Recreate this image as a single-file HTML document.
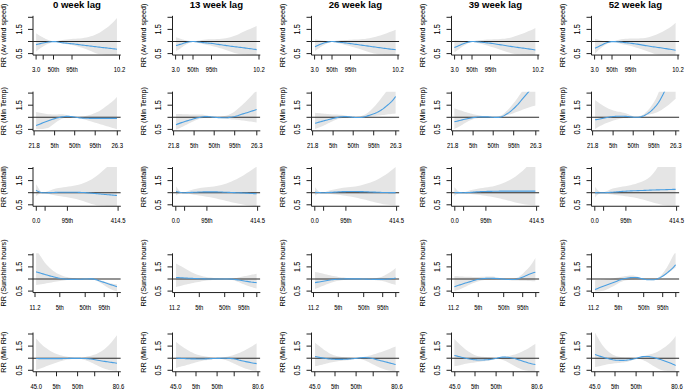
<!DOCTYPE html><html><head><meta charset="utf-8"><style>html,body{margin:0;padding:0;background:#fff;width:685px;height:390px;overflow:hidden}svg{display:block}text{font-family:"Liberation Sans",sans-serif;stroke:#000;stroke-width:0.05px}</style></head><body>
<svg width="685" height="390" viewBox="0 0 685 390">
<defs>
<clipPath id="p00"><rect x="33.00" y="15.85" width="87.80" height="39.20"/></clipPath>
<clipPath id="p01"><rect x="172.50" y="15.85" width="87.80" height="39.20"/></clipPath>
<clipPath id="p02"><rect x="311.50" y="15.85" width="87.80" height="39.20"/></clipPath>
<clipPath id="p03"><rect x="451.50" y="15.85" width="87.80" height="39.20"/></clipPath>
<clipPath id="p04"><rect x="591.50" y="15.85" width="87.80" height="39.20"/></clipPath>
<clipPath id="p10"><rect x="33.00" y="91.65" width="87.80" height="39.20"/></clipPath>
<clipPath id="p11"><rect x="172.50" y="91.65" width="87.80" height="39.20"/></clipPath>
<clipPath id="p12"><rect x="311.50" y="91.65" width="87.80" height="39.20"/></clipPath>
<clipPath id="p13"><rect x="451.50" y="91.65" width="87.80" height="39.20"/></clipPath>
<clipPath id="p14"><rect x="591.50" y="91.65" width="87.80" height="39.20"/></clipPath>
<clipPath id="p20"><rect x="33.00" y="167.05" width="87.80" height="39.20"/></clipPath>
<clipPath id="p21"><rect x="172.50" y="167.05" width="87.80" height="39.20"/></clipPath>
<clipPath id="p22"><rect x="311.50" y="167.05" width="87.80" height="39.20"/></clipPath>
<clipPath id="p23"><rect x="451.50" y="167.05" width="87.80" height="39.20"/></clipPath>
<clipPath id="p24"><rect x="591.50" y="167.05" width="87.80" height="39.20"/></clipPath>
<clipPath id="p30"><rect x="33.00" y="253.35" width="87.80" height="39.20"/></clipPath>
<clipPath id="p31"><rect x="172.50" y="253.35" width="87.80" height="39.20"/></clipPath>
<clipPath id="p32"><rect x="311.50" y="253.35" width="87.80" height="39.20"/></clipPath>
<clipPath id="p33"><rect x="451.50" y="253.35" width="87.80" height="39.20"/></clipPath>
<clipPath id="p34"><rect x="591.50" y="253.35" width="87.80" height="39.20"/></clipPath>
<clipPath id="p40"><rect x="33.00" y="332.55" width="87.80" height="39.20"/></clipPath>
<clipPath id="p41"><rect x="172.50" y="332.55" width="87.80" height="39.20"/></clipPath>
<clipPath id="p42"><rect x="311.50" y="332.55" width="87.80" height="39.20"/></clipPath>
<clipPath id="p43"><rect x="451.50" y="332.55" width="87.80" height="39.20"/></clipPath>
<clipPath id="p44"><rect x="591.50" y="332.55" width="87.80" height="39.20"/></clipPath>
</defs>
<g clip-path="url(#p00)">
<polygon points="36.10,33.21 36.71,33.65 37.32,34.08 37.93,34.49 38.54,34.89 39.15,35.28 39.76,35.65 40.38,36.01 40.99,36.36 41.60,36.70 42.21,37.03 42.82,37.36 43.43,37.68 44.04,38.01 44.65,38.34 45.26,38.66 45.87,38.96 46.48,39.25 47.09,39.51 47.70,39.74 48.31,39.97 48.92,40.18 49.53,40.38 50.14,40.57 50.75,40.75 51.36,40.92 51.97,41.08 52.58,41.23 53.19,41.37 53.80,41.50 55.98,41.16 58.16,40.81 60.33,40.45 62.51,40.10 64.69,39.77 66.87,39.47 69.04,39.20 71.22,38.99 73.40,38.84 75.58,38.73 77.76,38.60 79.93,38.40 82.11,38.15 84.29,37.84 86.47,37.45 88.64,36.94 90.82,36.34 93.00,35.65 95.18,34.82 97.36,33.86 99.53,32.73 101.71,31.35 103.89,29.87 106.07,28.31 108.25,26.63 110.42,24.74 112.60,22.65 114.78,20.42 116.96,18.03 116.96,54.96 114.78,54.95 112.60,54.91 110.42,54.84 108.25,54.75 106.07,54.64 103.89,54.51 101.71,54.36 99.53,54.15 97.36,53.74 95.18,53.07 93.00,52.05 90.82,51.08 88.64,50.17 86.47,49.29 84.29,48.50 82.11,47.81 79.93,47.18 77.76,46.57 75.58,45.95 73.40,45.37 71.22,44.88 69.04,44.50 66.87,44.18 64.69,43.84 62.51,43.43 60.33,43.00 58.16,42.54 55.98,42.04 53.80,41.50 53.19,41.71 52.58,41.93 51.97,42.16 51.36,42.39 50.75,42.63 50.14,42.88 49.53,43.13 48.92,43.39 48.31,43.66 47.70,43.94 47.09,44.23 46.48,44.54 45.87,44.87 45.26,45.21 44.65,45.56 44.04,45.93 43.43,46.30 42.82,46.67 42.21,47.05 41.60,47.44 40.99,47.84 40.38,48.25 39.76,48.68 39.15,49.12 38.54,49.58 37.93,50.06 37.32,50.56 36.71,51.07 36.10,51.61" fill="#e5e5e5"/>
<line x1="33.00" y1="41.50" x2="120.80" y2="41.50" stroke="#2a2a2a" stroke-width="1.1"/>
<polyline points="36.10,44.62 37.47,44.25 38.84,43.91 40.21,43.59 41.59,43.29 42.96,43.02 44.33,42.76 45.70,42.51 47.07,42.27 48.44,42.07 49.81,41.89 51.18,41.71 52.55,41.58 53.92,41.53 55.29,41.61 56.66,41.80 58.03,42.05 59.40,42.30 60.77,42.50 62.14,42.68 63.51,42.85 64.88,43.01 66.25,43.17 67.62,43.32 68.99,43.45 70.36,43.58 71.73,43.71 73.10,43.85 74.47,44.01 75.84,44.19 77.22,44.39 78.59,44.60 79.96,44.79 81.33,44.97 82.70,45.14 84.07,45.30 85.44,45.46 86.81,45.62 88.18,45.79 89.55,45.95 90.92,46.12 92.29,46.28 93.66,46.45 95.03,46.61 96.40,46.78 97.77,46.94 99.14,47.11 100.51,47.27 101.88,47.43 103.25,47.59 104.62,47.75 105.99,47.91 107.36,48.07 108.73,48.23 110.10,48.39 111.47,48.55 112.85,48.71 114.22,48.87 115.59,49.03 116.96,49.19" fill="none" stroke="#4a9fe2" stroke-width="1.1" stroke-linejoin="round"/>
</g>
<polyline points="33.00,15.85 33.00,55.05 120.80,55.05" fill="none" stroke="#222" stroke-width="1"/>
<line x1="28.00" y1="53.60" x2="33.00" y2="53.60" stroke="#222" stroke-width="1"/>
<line x1="28.00" y1="41.50" x2="33.00" y2="41.50" stroke="#222" stroke-width="1"/>
<line x1="28.00" y1="29.40" x2="33.00" y2="29.40" stroke="#222" stroke-width="1"/>
<line x1="28.00" y1="17.30" x2="33.00" y2="17.30" stroke="#222" stroke-width="1"/>
<text x="0" y="0" transform="translate(21.80,53.60) rotate(-90) scale(0.98,1.1)" text-anchor="middle" font-size="7.6" fill="#000">0.5</text>
<text x="0" y="0" transform="translate(21.80,29.40) rotate(-90) scale(0.98,1.1)" text-anchor="middle" font-size="7.6" fill="#000">1.5</text>
<text x="0" y="0" transform="translate(6.40,35.45) rotate(-90)" text-anchor="middle" font-size="7.2" fill="#000">RR (Av wind speed)</text>
<line x1="36.10" y1="55.05" x2="36.10" y2="59.55" stroke="#222" stroke-width="1"/>
<text x="0" y="0" transform="translate(36.10,72.20) scale(0.95,1.05)" text-anchor="middle" font-size="6.2" fill="#000">3.0</text>
<line x1="43.20" y1="55.05" x2="43.20" y2="59.55" stroke="#222" stroke-width="1"/>
<line x1="53.50" y1="55.05" x2="53.50" y2="59.55" stroke="#222" stroke-width="1"/>
<text x="0" y="0" transform="translate(53.50,72.20) scale(0.95,1.05)" text-anchor="middle" font-size="6.2" fill="#000">50th</text>
<line x1="72.00" y1="55.05" x2="72.00" y2="59.55" stroke="#222" stroke-width="1"/>
<text x="0" y="0" transform="translate(72.00,72.20) scale(0.95,1.05)" text-anchor="middle" font-size="6.2" fill="#000">95th</text>
<line x1="119.50" y1="55.05" x2="119.50" y2="59.55" stroke="#222" stroke-width="1"/>
<text x="0" y="0" transform="translate(119.50,72.20) scale(0.95,1.05)" text-anchor="middle" font-size="6.2" fill="#000">10.2</text>
<text x="76.90" y="7.50" text-anchor="middle" font-size="9.6" font-weight="bold" fill="#000" style="stroke:none">0 week lag</text>
<g clip-path="url(#p01)">
<polygon points="176.04,37.24 176.63,37.45 177.21,37.65 177.80,37.86 178.38,38.06 178.97,38.26 179.55,38.46 180.14,38.65 180.72,38.84 181.31,39.03 181.89,39.22 182.48,39.42 183.06,39.61 183.64,39.79 184.23,39.97 184.81,40.14 185.40,40.29 185.98,40.43 186.57,40.55 187.15,40.66 187.74,40.76 188.32,40.86 188.91,40.95 189.49,41.03 190.08,41.12 190.66,41.20 191.25,41.28 191.83,41.36 192.42,41.43 193.00,41.50 195.19,41.13 197.39,40.77 199.58,40.39 201.78,40.02 203.97,39.75 206.16,39.52 208.36,39.35 210.55,39.24 212.75,39.20 214.94,39.16 217.13,39.11 219.33,39.00 221.52,38.81 223.72,38.58 225.91,38.25 228.10,37.80 230.30,37.27 232.49,36.62 234.69,35.82 236.88,34.93 239.08,33.91 241.27,32.76 243.46,31.64 245.66,30.71 247.85,29.86 250.05,29.00 252.24,28.06 254.43,27.09 256.63,26.09 256.63,54.96 254.43,54.95 252.24,54.90 250.05,54.83 247.85,54.73 245.66,54.60 243.46,54.46 241.27,54.30 239.08,54.01 236.88,53.56 234.69,52.99 232.49,52.29 230.30,51.56 228.10,50.77 225.91,49.95 223.72,49.19 221.52,48.53 219.33,47.93 217.13,47.34 214.94,46.75 212.75,46.16 210.55,45.62 208.36,45.16 206.16,44.74 203.97,44.30 201.78,43.82 199.58,43.30 197.39,42.75 195.19,42.15 193.00,41.50 192.42,41.66 191.83,41.85 191.25,42.05 190.66,42.27 190.08,42.50 189.49,42.76 188.91,43.05 188.32,43.35 187.74,43.67 187.15,43.98 186.57,44.31 185.98,44.65 185.40,44.99 184.81,45.35 184.23,45.72 183.64,46.09 183.06,46.49 182.48,46.92 181.89,47.37 181.31,47.82 180.72,48.28 180.14,48.70 179.55,49.10 178.97,49.45 178.38,49.78 177.80,50.10 177.21,50.40 176.63,50.68 176.04,50.93" fill="#e5e5e5"/>
<line x1="172.50" y1="41.50" x2="260.30" y2="41.50" stroke="#2a2a2a" stroke-width="1.1"/>
<polyline points="176.04,45.56 177.41,45.20 178.78,44.81 180.14,44.40 181.51,43.97 182.87,43.49 184.24,43.03 185.60,42.65 186.97,42.29 188.34,42.01 189.70,41.81 191.07,41.64 192.43,41.54 193.80,41.55 195.17,41.66 196.53,41.82 197.90,42.01 199.26,42.17 200.63,42.31 201.99,42.45 203.36,42.59 204.73,42.72 206.09,42.86 207.46,42.99 208.82,43.12 210.19,43.25 211.56,43.38 212.92,43.54 214.29,43.73 215.65,43.95 217.02,44.18 218.38,44.41 219.75,44.63 221.12,44.83 222.48,45.02 223.85,45.21 225.21,45.40 226.58,45.59 227.95,45.78 229.31,45.98 230.68,46.17 232.04,46.36 233.41,46.54 234.77,46.71 236.14,46.87 237.51,47.03 238.87,47.19 240.24,47.36 241.60,47.53 242.97,47.72 244.34,47.90 245.70,48.08 247.07,48.27 248.43,48.46 249.80,48.64 251.16,48.83 252.53,49.02 253.90,49.21 255.26,49.40 256.63,49.59" fill="none" stroke="#4a9fe2" stroke-width="1.1" stroke-linejoin="round"/>
</g>
<polyline points="172.50,15.85 172.50,55.05 260.30,55.05" fill="none" stroke="#222" stroke-width="1"/>
<line x1="167.50" y1="53.60" x2="172.50" y2="53.60" stroke="#222" stroke-width="1"/>
<line x1="167.50" y1="41.50" x2="172.50" y2="41.50" stroke="#222" stroke-width="1"/>
<line x1="167.50" y1="29.40" x2="172.50" y2="29.40" stroke="#222" stroke-width="1"/>
<line x1="167.50" y1="17.30" x2="172.50" y2="17.30" stroke="#222" stroke-width="1"/>
<text x="0" y="0" transform="translate(161.30,53.60) rotate(-90) scale(0.98,1.1)" text-anchor="middle" font-size="7.6" fill="#000">0.5</text>
<text x="0" y="0" transform="translate(161.30,29.40) rotate(-90) scale(0.98,1.1)" text-anchor="middle" font-size="7.6" fill="#000">1.5</text>
<text x="0" y="0" transform="translate(145.90,35.45) rotate(-90)" text-anchor="middle" font-size="7.2" fill="#000">RR (Av wind speed)</text>
<line x1="175.60" y1="55.05" x2="175.60" y2="59.55" stroke="#222" stroke-width="1"/>
<text x="0" y="0" transform="translate(175.60,72.20) scale(0.95,1.05)" text-anchor="middle" font-size="6.2" fill="#000">3.0</text>
<line x1="182.70" y1="55.05" x2="182.70" y2="59.55" stroke="#222" stroke-width="1"/>
<line x1="193.00" y1="55.05" x2="193.00" y2="59.55" stroke="#222" stroke-width="1"/>
<text x="0" y="0" transform="translate(193.00,72.20) scale(0.95,1.05)" text-anchor="middle" font-size="6.2" fill="#000">50th</text>
<line x1="211.50" y1="55.05" x2="211.50" y2="59.55" stroke="#222" stroke-width="1"/>
<text x="0" y="0" transform="translate(211.50,72.20) scale(0.95,1.05)" text-anchor="middle" font-size="6.2" fill="#000">95th</text>
<line x1="259.00" y1="55.05" x2="259.00" y2="59.55" stroke="#222" stroke-width="1"/>
<text x="0" y="0" transform="translate(259.00,72.20) scale(0.95,1.05)" text-anchor="middle" font-size="6.2" fill="#000">10.2</text>
<text x="216.40" y="7.50" text-anchor="middle" font-size="9.6" font-weight="bold" fill="#000" style="stroke:none">13 week lag</text>
<g clip-path="url(#p02)">
<polygon points="315.04,39.25 315.63,39.39 316.21,39.52 316.80,39.64 317.38,39.76 317.97,39.88 318.55,39.99 319.14,40.09 319.72,40.19 320.31,40.27 320.89,40.36 321.48,40.44 322.06,40.51 322.64,40.58 323.23,40.65 323.81,40.72 324.40,40.78 324.98,40.85 325.57,40.91 326.15,40.97 326.74,41.03 327.32,41.09 327.91,41.15 328.49,41.20 329.08,41.26 329.66,41.31 330.25,41.36 330.83,41.41 331.42,41.46 332.00,41.50 334.19,41.11 336.39,40.80 338.58,40.55 340.78,40.34 342.97,40.16 345.16,40.01 347.36,39.89 349.55,39.77 351.75,39.69 353.94,39.61 356.13,39.51 358.33,39.40 360.52,39.28 362.72,39.12 364.91,38.88 367.10,38.57 369.30,38.20 371.49,37.76 373.69,37.22 375.88,36.64 378.08,36.03 380.27,35.38 382.46,34.68 384.66,33.94 386.85,33.15 389.05,32.33 391.24,31.52 393.43,30.69 395.63,29.85 395.63,54.96 393.43,54.95 391.24,54.92 389.05,54.87 386.85,54.80 384.66,54.71 382.46,54.61 380.27,54.47 378.08,54.19 375.88,53.84 373.69,53.40 371.49,52.85 369.30,52.24 367.10,51.54 364.91,50.76 362.72,49.99 360.52,49.27 358.33,48.56 356.13,47.88 353.94,47.24 351.75,46.63 349.55,46.04 347.36,45.45 345.16,44.88 342.97,44.32 340.78,43.79 338.58,43.28 336.39,42.74 334.19,42.15 332.00,41.50 331.42,41.66 330.83,41.85 330.25,42.05 329.66,42.27 329.08,42.50 328.49,42.76 327.91,43.05 327.32,43.36 326.74,43.67 326.15,43.97 325.57,44.27 324.98,44.57 324.40,44.88 323.81,45.19 323.23,45.51 322.64,45.84 322.06,46.19 321.48,46.56 320.89,46.95 320.31,47.34 319.72,47.75 319.14,48.15 318.55,48.55 317.97,48.94 317.38,49.34 316.80,49.74 316.21,50.13 315.63,50.53 315.04,50.93" fill="#e5e5e5"/>
<line x1="311.50" y1="41.50" x2="399.30" y2="41.50" stroke="#2a2a2a" stroke-width="1.1"/>
<polyline points="315.04,46.64 316.41,46.02 317.78,45.42 319.14,44.85 320.51,44.28 321.87,43.75 323.24,43.27 324.60,42.84 325.97,42.46 327.34,42.14 328.70,41.87 330.07,41.68 331.43,41.55 332.80,41.55 334.17,41.66 335.53,41.82 336.90,42.01 338.26,42.17 339.63,42.31 340.99,42.44 342.36,42.57 343.73,42.71 345.09,42.86 346.46,43.02 347.82,43.21 349.19,43.41 350.56,43.61 351.92,43.81 353.29,44.00 354.65,44.19 356.02,44.38 357.38,44.57 358.75,44.76 360.12,44.96 361.48,45.15 362.85,45.34 364.21,45.53 365.58,45.72 366.95,45.91 368.31,46.10 369.68,46.29 371.04,46.49 372.41,46.68 373.77,46.87 375.14,47.06 376.51,47.25 377.87,47.44 379.24,47.63 380.60,47.82 381.97,48.00 383.34,48.18 384.70,48.36 386.07,48.54 387.43,48.72 388.80,48.90 390.16,49.08 391.53,49.25 392.90,49.38 394.26,49.50 395.63,49.59" fill="none" stroke="#4a9fe2" stroke-width="1.1" stroke-linejoin="round"/>
</g>
<polyline points="311.50,15.85 311.50,55.05 399.30,55.05" fill="none" stroke="#222" stroke-width="1"/>
<line x1="306.50" y1="53.60" x2="311.50" y2="53.60" stroke="#222" stroke-width="1"/>
<line x1="306.50" y1="41.50" x2="311.50" y2="41.50" stroke="#222" stroke-width="1"/>
<line x1="306.50" y1="29.40" x2="311.50" y2="29.40" stroke="#222" stroke-width="1"/>
<line x1="306.50" y1="17.30" x2="311.50" y2="17.30" stroke="#222" stroke-width="1"/>
<text x="0" y="0" transform="translate(300.30,53.60) rotate(-90) scale(0.98,1.1)" text-anchor="middle" font-size="7.6" fill="#000">0.5</text>
<text x="0" y="0" transform="translate(300.30,29.40) rotate(-90) scale(0.98,1.1)" text-anchor="middle" font-size="7.6" fill="#000">1.5</text>
<text x="0" y="0" transform="translate(284.90,35.45) rotate(-90)" text-anchor="middle" font-size="7.2" fill="#000">RR (Av wind speed)</text>
<line x1="314.60" y1="55.05" x2="314.60" y2="59.55" stroke="#222" stroke-width="1"/>
<text x="0" y="0" transform="translate(314.60,72.20) scale(0.95,1.05)" text-anchor="middle" font-size="6.2" fill="#000">3.0</text>
<line x1="321.70" y1="55.05" x2="321.70" y2="59.55" stroke="#222" stroke-width="1"/>
<line x1="332.00" y1="55.05" x2="332.00" y2="59.55" stroke="#222" stroke-width="1"/>
<text x="0" y="0" transform="translate(332.00,72.20) scale(0.95,1.05)" text-anchor="middle" font-size="6.2" fill="#000">50th</text>
<line x1="350.50" y1="55.05" x2="350.50" y2="59.55" stroke="#222" stroke-width="1"/>
<text x="0" y="0" transform="translate(350.50,72.20) scale(0.95,1.05)" text-anchor="middle" font-size="6.2" fill="#000">95th</text>
<line x1="398.00" y1="55.05" x2="398.00" y2="59.55" stroke="#222" stroke-width="1"/>
<text x="0" y="0" transform="translate(398.00,72.20) scale(0.95,1.05)" text-anchor="middle" font-size="6.2" fill="#000">10.2</text>
<text x="355.40" y="7.50" text-anchor="middle" font-size="9.6" font-weight="bold" fill="#000" style="stroke:none">26 week lag</text>
<g clip-path="url(#p03)">
<polygon points="454.37,40.19 454.98,40.25 455.59,40.31 456.20,40.37 456.80,40.43 457.41,40.49 458.02,40.55 458.63,40.62 459.24,40.68 459.84,40.74 460.45,40.80 461.06,40.87 461.67,40.93 462.27,40.98 462.88,41.04 463.49,41.09 464.10,41.14 464.71,41.20 465.31,41.25 465.92,41.29 466.53,41.33 467.14,41.37 467.75,41.40 468.35,41.42 468.96,41.44 469.57,41.46 470.18,41.47 470.78,41.49 471.39,41.50 472.00,41.50 474.18,40.92 476.37,40.52 478.55,40.26 480.74,40.06 482.92,39.90 485.11,39.75 487.29,39.62 489.48,39.51 491.66,39.42 493.85,39.34 496.03,39.25 498.22,39.14 500.40,39.02 502.59,38.86 504.77,38.64 506.96,38.34 509.14,37.96 511.33,37.46 513.51,36.78 515.70,36.04 517.88,35.31 520.07,34.52 522.25,33.71 524.44,32.88 526.62,32.02 528.80,31.12 530.99,30.17 533.17,29.16 535.36,28.10 535.36,54.96 533.17,54.95 530.99,54.92 528.80,54.88 526.62,54.82 524.44,54.74 522.25,54.65 520.07,54.56 517.88,54.40 515.70,54.14 513.51,53.79 511.33,53.22 509.14,52.60 506.96,51.93 504.77,51.21 502.59,50.49 500.40,49.74 498.22,48.98 496.03,48.26 493.85,47.58 491.66,46.93 489.48,46.29 487.29,45.62 485.11,44.95 482.92,44.31 480.74,43.76 478.55,43.26 476.37,42.74 474.18,42.15 472.00,41.50 471.39,41.69 470.78,41.90 470.18,42.15 469.57,42.41 468.96,42.70 468.35,43.03 467.75,43.41 467.14,43.80 466.53,44.18 465.92,44.54 465.31,44.89 464.71,45.25 464.10,45.60 463.49,45.97 462.88,46.34 462.27,46.74 461.67,47.16 461.06,47.61 460.45,48.07 459.84,48.53 459.24,48.99 458.63,49.43 458.02,49.86 457.41,50.28 456.80,50.69 456.20,51.09 455.59,51.49 454.98,51.89 454.37,52.28" fill="#e5e5e5"/>
<line x1="451.50" y1="41.50" x2="539.30" y2="41.50" stroke="#2a2a2a" stroke-width="1.1"/>
<polyline points="454.37,47.58 455.74,46.98 457.12,46.39 458.49,45.79 459.86,45.19 461.24,44.58 462.61,44.01 463.98,43.47 465.35,42.96 466.73,42.53 468.10,42.16 469.47,41.87 470.84,41.62 472.22,41.53 473.59,41.57 474.96,41.65 476.33,41.76 477.71,41.87 479.08,41.98 480.45,42.10 481.83,42.24 483.20,42.38 484.57,42.53 485.94,42.68 487.32,42.84 488.69,42.99 490.06,43.16 491.43,43.34 492.81,43.53 494.18,43.74 495.55,43.97 496.92,44.20 498.30,44.42 499.67,44.64 501.04,44.86 502.42,45.08 503.79,45.30 505.16,45.52 506.53,45.74 507.91,45.97 509.28,46.19 510.65,46.41 512.02,46.62 513.40,46.82 514.77,47.02 516.14,47.21 517.51,47.40 518.89,47.58 520.26,47.77 521.63,47.95 523.01,48.12 524.38,48.30 525.75,48.49 527.12,48.68 528.50,48.89 529.87,49.10 531.24,49.31 532.61,49.53 533.99,49.76 535.36,49.99" fill="none" stroke="#4a9fe2" stroke-width="1.1" stroke-linejoin="round"/>
</g>
<polyline points="451.50,15.85 451.50,55.05 539.30,55.05" fill="none" stroke="#222" stroke-width="1"/>
<line x1="446.50" y1="53.60" x2="451.50" y2="53.60" stroke="#222" stroke-width="1"/>
<line x1="446.50" y1="41.50" x2="451.50" y2="41.50" stroke="#222" stroke-width="1"/>
<line x1="446.50" y1="29.40" x2="451.50" y2="29.40" stroke="#222" stroke-width="1"/>
<line x1="446.50" y1="17.30" x2="451.50" y2="17.30" stroke="#222" stroke-width="1"/>
<text x="0" y="0" transform="translate(440.30,53.60) rotate(-90) scale(0.98,1.1)" text-anchor="middle" font-size="7.6" fill="#000">0.5</text>
<text x="0" y="0" transform="translate(440.30,29.40) rotate(-90) scale(0.98,1.1)" text-anchor="middle" font-size="7.6" fill="#000">1.5</text>
<text x="0" y="0" transform="translate(424.90,35.45) rotate(-90)" text-anchor="middle" font-size="7.2" fill="#000">RR (Av wind speed)</text>
<line x1="454.60" y1="55.05" x2="454.60" y2="59.55" stroke="#222" stroke-width="1"/>
<text x="0" y="0" transform="translate(454.60,72.20) scale(0.95,1.05)" text-anchor="middle" font-size="6.2" fill="#000">3.0</text>
<line x1="461.70" y1="55.05" x2="461.70" y2="59.55" stroke="#222" stroke-width="1"/>
<line x1="472.00" y1="55.05" x2="472.00" y2="59.55" stroke="#222" stroke-width="1"/>
<text x="0" y="0" transform="translate(472.00,72.20) scale(0.95,1.05)" text-anchor="middle" font-size="6.2" fill="#000">50th</text>
<line x1="490.50" y1="55.05" x2="490.50" y2="59.55" stroke="#222" stroke-width="1"/>
<text x="0" y="0" transform="translate(490.50,72.20) scale(0.95,1.05)" text-anchor="middle" font-size="6.2" fill="#000">95th</text>
<line x1="538.00" y1="55.05" x2="538.00" y2="59.55" stroke="#222" stroke-width="1"/>
<text x="0" y="0" transform="translate(538.00,72.20) scale(0.95,1.05)" text-anchor="middle" font-size="6.2" fill="#000">10.2</text>
<text x="495.40" y="7.50" text-anchor="middle" font-size="9.6" font-weight="bold" fill="#000" style="stroke:none">39 week lag</text>
<g clip-path="url(#p04)">
<polygon points="595.04,38.85 595.65,39.02 596.25,39.19 596.85,39.36 597.45,39.53 598.05,39.69 598.66,39.86 599.26,40.04 599.86,40.22 600.46,40.40 601.06,40.57 601.67,40.72 602.27,40.84 602.87,40.93 603.47,41.01 604.07,41.09 604.67,41.16 605.28,41.22 605.88,41.28 606.48,41.33 607.08,41.37 607.68,41.39 608.29,41.42 608.89,41.43 609.49,41.45 610.09,41.47 610.69,41.48 611.30,41.49 611.90,41.50 612.50,41.50 614.68,40.91 616.85,40.31 619.03,39.70 621.21,39.31 623.38,39.03 625.56,38.82 627.74,38.64 629.91,38.50 632.09,38.44 634.27,38.44 636.45,38.44 638.62,38.44 640.80,38.37 642.98,38.19 645.15,37.94 647.33,37.56 649.51,36.98 651.68,36.30 653.86,35.56 656.04,34.70 658.21,33.75 660.39,32.77 662.57,31.70 664.74,30.56 666.92,29.34 669.10,28.01 671.27,26.50 673.45,24.74 675.63,22.73 675.63,54.96 673.45,54.96 671.27,54.94 669.10,54.90 666.92,54.86 664.74,54.80 662.57,54.72 660.39,54.63 658.21,54.51 656.04,54.16 653.86,53.63 651.68,52.78 649.51,51.90 647.33,51.13 645.15,50.39 642.98,49.67 640.80,49.00 638.62,48.35 636.45,47.71 634.27,47.03 632.09,46.34 629.91,45.72 627.74,45.22 625.56,44.81 623.38,44.39 621.21,43.90 619.03,43.34 616.85,42.75 614.68,42.14 612.50,41.50 611.90,41.69 611.30,41.89 610.69,42.12 610.09,42.36 609.49,42.62 608.89,42.90 608.29,43.20 607.68,43.52 607.08,43.86 606.48,44.21 605.88,44.57 605.28,44.94 604.67,45.33 604.07,45.73 603.47,46.15 602.87,46.58 602.27,47.03 601.67,47.49 601.06,47.97 600.46,48.46 599.86,48.97 599.26,49.49 598.66,50.03 598.05,50.58 597.45,51.15 596.85,51.75 596.25,52.35 595.65,52.98 595.04,53.62" fill="#e5e5e5"/>
<line x1="591.50" y1="41.50" x2="679.30" y2="41.50" stroke="#2a2a2a" stroke-width="1.1"/>
<polyline points="595.04,48.25 596.41,47.60 597.78,46.94 599.14,46.27 600.51,45.57 601.87,44.89 603.24,44.24 604.60,43.61 605.97,43.05 607.34,42.59 608.70,42.19 610.07,41.89 611.43,41.62 612.80,41.53 614.17,41.58 615.53,41.67 616.90,41.79 618.26,41.91 619.63,42.03 620.99,42.16 622.36,42.29 623.73,42.44 625.09,42.59 626.46,42.74 627.82,42.90 629.19,43.06 630.56,43.23 631.92,43.41 633.29,43.58 634.65,43.77 636.02,43.95 637.38,44.15 638.75,44.36 640.12,44.59 641.48,44.84 642.85,45.10 644.21,45.35 645.58,45.59 646.95,45.82 648.31,46.04 649.68,46.26 651.04,46.47 652.41,46.68 653.77,46.87 655.14,47.06 656.51,47.25 657.87,47.44 659.24,47.63 660.60,47.83 661.97,48.03 663.34,48.24 664.70,48.44 666.07,48.65 667.43,48.87 668.80,49.09 670.16,49.32 671.53,49.55 672.90,49.78 674.26,50.02 675.63,50.26" fill="none" stroke="#4a9fe2" stroke-width="1.1" stroke-linejoin="round"/>
</g>
<polyline points="591.50,15.85 591.50,55.05 679.30,55.05" fill="none" stroke="#222" stroke-width="1"/>
<line x1="586.50" y1="53.60" x2="591.50" y2="53.60" stroke="#222" stroke-width="1"/>
<line x1="586.50" y1="41.50" x2="591.50" y2="41.50" stroke="#222" stroke-width="1"/>
<line x1="586.50" y1="29.40" x2="591.50" y2="29.40" stroke="#222" stroke-width="1"/>
<line x1="586.50" y1="17.30" x2="591.50" y2="17.30" stroke="#222" stroke-width="1"/>
<text x="0" y="0" transform="translate(580.30,53.60) rotate(-90) scale(0.98,1.1)" text-anchor="middle" font-size="7.6" fill="#000">0.5</text>
<text x="0" y="0" transform="translate(580.30,29.40) rotate(-90) scale(0.98,1.1)" text-anchor="middle" font-size="7.6" fill="#000">1.5</text>
<text x="0" y="0" transform="translate(564.90,35.45) rotate(-90)" text-anchor="middle" font-size="7.2" fill="#000">RR (Av wind speed)</text>
<line x1="594.60" y1="55.05" x2="594.60" y2="59.55" stroke="#222" stroke-width="1"/>
<text x="0" y="0" transform="translate(594.60,72.20) scale(0.95,1.05)" text-anchor="middle" font-size="6.2" fill="#000">3.0</text>
<line x1="601.70" y1="55.05" x2="601.70" y2="59.55" stroke="#222" stroke-width="1"/>
<line x1="612.00" y1="55.05" x2="612.00" y2="59.55" stroke="#222" stroke-width="1"/>
<text x="0" y="0" transform="translate(612.00,72.20) scale(0.95,1.05)" text-anchor="middle" font-size="6.2" fill="#000">50th</text>
<line x1="630.50" y1="55.05" x2="630.50" y2="59.55" stroke="#222" stroke-width="1"/>
<text x="0" y="0" transform="translate(630.50,72.20) scale(0.95,1.05)" text-anchor="middle" font-size="6.2" fill="#000">95th</text>
<line x1="678.00" y1="55.05" x2="678.00" y2="59.55" stroke="#222" stroke-width="1"/>
<text x="0" y="0" transform="translate(678.00,72.20) scale(0.95,1.05)" text-anchor="middle" font-size="6.2" fill="#000">10.2</text>
<text x="635.40" y="7.50" text-anchor="middle" font-size="9.6" font-weight="bold" fill="#000" style="stroke:none">52 week lag</text>
<g clip-path="url(#p10)">
<polygon points="36.10,111.89 37.43,112.20 38.77,112.50 40.10,112.78 41.43,113.04 42.76,113.29 44.09,113.54 45.42,113.77 46.75,113.98 48.08,114.14 49.41,114.26 50.74,114.37 52.07,114.47 53.41,114.54 54.74,114.58 56.07,114.56 57.40,114.47 58.73,114.36 60.06,114.25 61.39,114.18 62.72,114.22 64.05,114.43 65.38,114.72 66.71,115.06 68.05,115.53 69.38,116.02 70.71,116.40 72.04,116.73 73.37,117.04 74.70,117.30 76.16,117.18 77.61,117.04 79.07,116.89 80.53,116.74 81.99,116.57 83.44,116.38 84.90,116.16 86.36,115.86 87.81,115.50 89.27,115.09 90.73,114.65 92.19,114.15 93.64,113.59 95.10,112.99 96.56,112.35 98.01,111.67 99.47,110.92 100.93,110.09 102.39,109.10 103.84,107.98 105.30,106.82 106.76,105.71 108.21,104.66 109.67,103.59 111.13,102.46 112.58,101.23 114.04,99.89 115.50,98.48 116.96,96.98 116.96,129.22 115.50,128.78 114.04,128.34 112.58,127.91 111.13,127.47 109.67,127.03 108.21,126.59 106.76,126.16 105.30,125.72 103.84,125.28 102.39,124.85 100.93,124.41 99.47,123.97 98.01,123.53 96.56,123.10 95.10,122.66 93.64,122.22 92.19,121.79 90.73,121.35 89.27,120.90 87.81,120.45 86.36,120.01 84.90,119.60 83.44,119.20 81.99,118.83 80.53,118.47 79.07,118.14 77.61,117.84 76.16,117.56 74.70,117.30 73.37,117.04 72.04,116.89 70.71,116.87 69.38,116.93 68.05,117.05 66.71,117.21 65.38,117.51 64.05,117.92 62.72,118.40 61.39,119.01 60.06,119.73 58.73,120.50 57.40,121.35 56.07,122.27 54.74,123.23 53.41,124.28 52.07,125.34 50.74,126.26 49.41,127.18 48.08,127.94 46.75,128.35 45.42,128.60 44.09,128.80 42.76,128.92 41.43,128.95 40.10,128.95 38.77,128.95 37.43,128.95 36.10,128.95" fill="#e5e5e5"/>
<line x1="33.00" y1="117.30" x2="120.80" y2="117.30" stroke="#2a2a2a" stroke-width="1.1"/>
<polyline points="36.10,125.59 37.47,125.03 38.84,124.48 40.21,123.92 41.59,123.37 42.96,122.82 44.33,122.26 45.70,121.71 47.07,121.18 48.44,120.67 49.81,120.17 51.18,119.70 52.55,119.26 53.92,118.85 55.29,118.46 56.66,118.09 58.03,117.76 59.40,117.45 60.77,117.15 62.14,116.89 63.51,116.69 64.88,116.50 66.25,116.36 67.62,116.33 68.99,116.39 70.36,116.50 71.73,116.64 73.10,116.85 74.47,117.08 75.84,117.30 77.22,117.52 78.59,117.71 79.96,117.86 81.33,117.99 82.70,118.10 84.07,118.18 85.44,118.23 86.81,118.27 88.18,118.30 89.55,118.33 90.92,118.34 92.29,118.34 93.66,118.34 95.03,118.34 96.40,118.34 97.77,118.34 99.14,118.34 100.51,118.34 101.88,118.34 103.25,118.34 104.62,118.34 105.99,118.34 107.36,118.34 108.73,118.34 110.10,118.34 111.47,118.34 112.85,118.34 114.22,118.34 115.59,118.34 116.96,118.34" fill="none" stroke="#4a9fe2" stroke-width="1.1" stroke-linejoin="round"/>
</g>
<polyline points="33.00,91.65 33.00,130.85 120.80,130.85" fill="none" stroke="#222" stroke-width="1"/>
<line x1="28.00" y1="129.40" x2="33.00" y2="129.40" stroke="#222" stroke-width="1"/>
<line x1="28.00" y1="117.30" x2="33.00" y2="117.30" stroke="#222" stroke-width="1"/>
<line x1="28.00" y1="105.20" x2="33.00" y2="105.20" stroke="#222" stroke-width="1"/>
<line x1="28.00" y1="93.10" x2="33.00" y2="93.10" stroke="#222" stroke-width="1"/>
<text x="0" y="0" transform="translate(21.80,129.40) rotate(-90) scale(0.98,1.1)" text-anchor="middle" font-size="7.6" fill="#000">0.5</text>
<text x="0" y="0" transform="translate(21.80,105.20) rotate(-90) scale(0.98,1.1)" text-anchor="middle" font-size="7.6" fill="#000">1.5</text>
<text x="0" y="0" transform="translate(6.40,111.25) rotate(-90)" text-anchor="middle" font-size="7.2" fill="#000">RR (Min Temp)</text>
<line x1="34.10" y1="130.85" x2="34.10" y2="135.35" stroke="#222" stroke-width="1"/>
<text x="0" y="0" transform="translate(34.10,148.00) scale(0.95,1.05)" text-anchor="middle" font-size="6.2" fill="#000">21.8</text>
<line x1="54.60" y1="130.85" x2="54.60" y2="135.35" stroke="#222" stroke-width="1"/>
<text x="0" y="0" transform="translate(54.60,148.00) scale(0.95,1.05)" text-anchor="middle" font-size="6.2" fill="#000">5th</text>
<line x1="74.70" y1="130.85" x2="74.70" y2="135.35" stroke="#222" stroke-width="1"/>
<text x="0" y="0" transform="translate(74.70,148.00) scale(0.95,1.05)" text-anchor="middle" font-size="6.2" fill="#000">50th</text>
<line x1="95.20" y1="130.85" x2="95.20" y2="135.35" stroke="#222" stroke-width="1"/>
<text x="0" y="0" transform="translate(95.20,148.00) scale(0.95,1.05)" text-anchor="middle" font-size="6.2" fill="#000">95th</text>
<line x1="117.30" y1="130.85" x2="117.30" y2="135.35" stroke="#222" stroke-width="1"/>
<text x="0" y="0" transform="translate(117.30,148.00) scale(0.95,1.05)" text-anchor="middle" font-size="6.2" fill="#000">26.3</text>
<g clip-path="url(#p11)">
<polygon points="176.04,113.91 177.36,113.95 178.68,114.00 179.99,114.05 181.31,114.10 182.62,114.14 183.94,114.20 185.25,114.25 186.57,114.31 187.89,114.37 189.20,114.42 190.52,114.45 191.83,114.49 193.15,114.52 194.46,114.55 195.78,114.57 197.10,114.58 198.41,114.58 199.73,114.58 201.04,114.58 202.36,114.58 203.67,114.70 204.99,114.96 206.31,115.26 207.62,115.62 208.94,116.06 210.25,116.45 211.57,116.77 212.88,117.05 214.20,117.30 215.66,117.15 217.13,117.00 218.59,116.83 220.05,116.68 221.52,116.51 222.98,116.31 224.44,116.05 225.90,115.67 227.37,115.21 228.83,114.68 230.29,114.08 231.76,113.35 233.22,112.51 234.68,111.48 236.15,110.31 237.61,109.10 239.07,107.84 240.53,106.54 242.00,105.19 243.46,103.82 244.92,102.42 246.39,100.99 247.85,99.52 249.31,98.03 250.78,96.52 252.24,94.92 253.70,93.33 255.16,91.91 256.63,90.67 256.63,122.50 255.16,122.27 253.70,122.04 252.24,121.81 250.78,121.59 249.31,121.38 247.85,121.16 246.39,120.96 244.92,120.76 243.46,120.57 242.00,120.38 240.53,120.19 239.07,120.02 237.61,119.86 236.15,119.73 234.68,119.61 233.22,119.51 231.76,119.39 230.29,119.26 228.83,119.10 227.37,118.92 225.90,118.74 224.44,118.55 222.98,118.40 221.52,118.26 220.05,118.12 218.59,117.96 217.13,117.77 215.66,117.55 214.20,117.30 212.88,117.31 211.57,117.35 210.25,117.40 208.94,117.46 207.62,117.53 206.31,117.63 204.99,117.78 203.67,117.97 202.36,118.18 201.04,118.46 199.73,118.83 198.41,119.26 197.10,119.73 195.78,120.24 194.46,120.81 193.15,121.44 191.83,122.07 190.52,122.70 189.20,123.36 187.89,124.03 186.57,124.69 185.25,125.36 183.94,126.03 182.62,126.70 181.31,127.34 179.99,127.95 178.68,128.53 177.36,129.09 176.04,129.62" fill="#e5e5e5"/>
<line x1="172.50" y1="117.30" x2="260.30" y2="117.30" stroke="#2a2a2a" stroke-width="1.1"/>
<polyline points="176.04,124.65 177.41,124.12 178.78,123.61 180.14,123.12 181.51,122.64 182.87,122.19 184.24,121.75 185.60,121.32 186.97,120.90 188.34,120.48 189.70,120.08 191.07,119.67 192.43,119.26 193.80,118.82 195.17,118.40 196.53,118.02 197.90,117.70 199.26,117.42 200.63,117.17 201.99,116.94 203.36,116.71 204.73,116.59 206.09,116.61 207.46,116.66 208.82,116.72 210.19,116.82 211.56,116.96 212.92,117.12 214.29,117.26 215.65,117.38 217.02,117.50 218.38,117.60 219.75,117.67 221.12,117.72 222.48,117.76 223.85,117.79 225.21,117.80 226.58,117.74 227.95,117.60 229.31,117.42 230.68,117.23 232.04,117.01 233.41,116.74 234.77,116.44 236.14,116.10 237.51,115.70 238.87,115.23 240.24,114.75 241.60,114.31 242.97,113.90 244.34,113.50 245.70,113.09 247.07,112.67 248.43,112.24 249.80,111.79 251.16,111.34 252.53,110.88 253.90,110.42 255.26,109.95 256.63,109.47" fill="none" stroke="#4a9fe2" stroke-width="1.1" stroke-linejoin="round"/>
</g>
<polyline points="172.50,91.65 172.50,130.85 260.30,130.85" fill="none" stroke="#222" stroke-width="1"/>
<line x1="167.50" y1="129.40" x2="172.50" y2="129.40" stroke="#222" stroke-width="1"/>
<line x1="167.50" y1="117.30" x2="172.50" y2="117.30" stroke="#222" stroke-width="1"/>
<line x1="167.50" y1="105.20" x2="172.50" y2="105.20" stroke="#222" stroke-width="1"/>
<line x1="167.50" y1="93.10" x2="172.50" y2="93.10" stroke="#222" stroke-width="1"/>
<text x="0" y="0" transform="translate(161.30,129.40) rotate(-90) scale(0.98,1.1)" text-anchor="middle" font-size="7.6" fill="#000">0.5</text>
<text x="0" y="0" transform="translate(161.30,105.20) rotate(-90) scale(0.98,1.1)" text-anchor="middle" font-size="7.6" fill="#000">1.5</text>
<text x="0" y="0" transform="translate(145.90,111.25) rotate(-90)" text-anchor="middle" font-size="7.2" fill="#000">RR (Min Temp)</text>
<line x1="173.60" y1="130.85" x2="173.60" y2="135.35" stroke="#222" stroke-width="1"/>
<text x="0" y="0" transform="translate(173.60,148.00) scale(0.95,1.05)" text-anchor="middle" font-size="6.2" fill="#000">21.8</text>
<line x1="194.10" y1="130.85" x2="194.10" y2="135.35" stroke="#222" stroke-width="1"/>
<text x="0" y="0" transform="translate(194.10,148.00) scale(0.95,1.05)" text-anchor="middle" font-size="6.2" fill="#000">5th</text>
<line x1="214.20" y1="130.85" x2="214.20" y2="135.35" stroke="#222" stroke-width="1"/>
<text x="0" y="0" transform="translate(214.20,148.00) scale(0.95,1.05)" text-anchor="middle" font-size="6.2" fill="#000">50th</text>
<line x1="234.70" y1="130.85" x2="234.70" y2="135.35" stroke="#222" stroke-width="1"/>
<text x="0" y="0" transform="translate(234.70,148.00) scale(0.95,1.05)" text-anchor="middle" font-size="6.2" fill="#000">95th</text>
<line x1="256.80" y1="130.85" x2="256.80" y2="135.35" stroke="#222" stroke-width="1"/>
<text x="0" y="0" transform="translate(256.80,148.00) scale(0.95,1.05)" text-anchor="middle" font-size="6.2" fill="#000">26.3</text>
<g clip-path="url(#p12)">
<polygon points="315.04,112.83 316.36,112.95 317.68,113.06 318.99,113.18 320.31,113.30 321.62,113.43 322.94,113.55 324.25,113.69 325.57,113.83 326.89,113.97 328.20,114.10 329.52,114.20 330.83,114.30 332.15,114.39 333.46,114.47 334.78,114.53 336.10,114.59 337.41,114.62 338.73,114.64 340.04,114.67 341.36,114.72 342.67,114.90 343.99,115.20 345.31,115.53 346.62,115.87 347.94,116.25 349.25,116.58 350.57,116.86 351.88,117.10 353.20,117.30 354.66,117.20 356.13,117.03 357.59,116.83 359.05,116.55 360.52,116.19 361.98,115.76 363.44,115.25 364.90,114.57 366.37,113.74 367.83,112.74 369.29,111.50 370.76,110.17 372.22,108.79 373.68,107.31 375.15,105.75 376.61,104.10 378.07,102.36 379.53,100.53 381.00,98.58 382.46,96.59 383.92,94.64 385.39,92.71 386.85,90.79 388.31,88.83 389.78,87.11 391.24,85.60 392.70,84.22 394.16,82.98 395.63,81.94 395.63,113.50 394.16,113.66 392.70,113.82 391.24,113.98 389.78,114.15 388.31,114.33 386.85,114.51 385.39,114.70 383.92,114.88 382.46,115.07 381.00,115.25 379.53,115.43 378.07,115.61 376.61,115.80 375.15,115.98 373.68,116.16 372.22,116.35 370.76,116.53 369.29,116.71 367.83,116.90 366.37,117.10 364.90,117.30 363.44,117.47 361.98,117.59 360.52,117.69 359.05,117.76 357.59,117.80 356.13,117.75 354.66,117.56 353.20,117.30 351.88,117.31 350.57,117.35 349.25,117.40 347.94,117.46 346.62,117.53 345.31,117.63 343.99,117.78 342.67,117.97 341.36,118.18 340.04,118.46 338.73,118.83 337.41,119.26 336.10,119.73 334.78,120.24 333.46,120.81 332.15,121.44 330.83,122.07 329.52,122.71 328.20,123.37 326.89,124.05 325.57,124.70 324.25,125.33 322.94,125.95 321.62,126.55 320.31,127.11 318.99,127.62 317.68,128.10 316.36,128.54 315.04,128.95" fill="#e5e5e5"/>
<line x1="311.50" y1="117.30" x2="399.30" y2="117.30" stroke="#2a2a2a" stroke-width="1.1"/>
<polyline points="315.04,123.31 316.41,122.91 317.78,122.52 319.14,122.13 320.51,121.75 321.87,121.37 323.24,120.99 324.60,120.62 325.97,120.27 327.34,119.92 328.70,119.59 330.07,119.25 331.43,118.90 332.80,118.54 334.17,118.19 335.53,117.87 336.90,117.59 338.26,117.31 339.63,117.07 340.99,116.89 342.36,116.75 343.73,116.65 345.09,116.59 346.46,116.63 347.82,116.73 349.19,116.85 350.56,116.99 351.92,117.15 353.29,117.28 354.65,117.40 356.02,117.49 357.38,117.53 358.75,117.51 360.12,117.46 361.48,117.39 362.85,117.21 364.21,116.90 365.58,116.55 366.95,116.13 368.31,115.64 369.68,115.17 371.04,114.73 372.41,114.28 373.77,113.79 375.14,113.24 376.51,112.63 377.87,111.97 379.24,111.25 380.60,110.46 381.97,109.58 383.34,108.57 384.70,107.48 386.07,106.38 387.43,105.28 388.80,104.13 390.16,102.90 391.53,101.59 392.90,100.13 394.26,98.41 395.63,96.45" fill="none" stroke="#4a9fe2" stroke-width="1.1" stroke-linejoin="round"/>
</g>
<polyline points="311.50,91.65 311.50,130.85 399.30,130.85" fill="none" stroke="#222" stroke-width="1"/>
<line x1="306.50" y1="129.40" x2="311.50" y2="129.40" stroke="#222" stroke-width="1"/>
<line x1="306.50" y1="117.30" x2="311.50" y2="117.30" stroke="#222" stroke-width="1"/>
<line x1="306.50" y1="105.20" x2="311.50" y2="105.20" stroke="#222" stroke-width="1"/>
<line x1="306.50" y1="93.10" x2="311.50" y2="93.10" stroke="#222" stroke-width="1"/>
<text x="0" y="0" transform="translate(300.30,129.40) rotate(-90) scale(0.98,1.1)" text-anchor="middle" font-size="7.6" fill="#000">0.5</text>
<text x="0" y="0" transform="translate(300.30,105.20) rotate(-90) scale(0.98,1.1)" text-anchor="middle" font-size="7.6" fill="#000">1.5</text>
<text x="0" y="0" transform="translate(284.90,111.25) rotate(-90)" text-anchor="middle" font-size="7.2" fill="#000">RR (Min Temp)</text>
<line x1="312.60" y1="130.85" x2="312.60" y2="135.35" stroke="#222" stroke-width="1"/>
<text x="0" y="0" transform="translate(312.60,148.00) scale(0.95,1.05)" text-anchor="middle" font-size="6.2" fill="#000">21.8</text>
<line x1="333.10" y1="130.85" x2="333.10" y2="135.35" stroke="#222" stroke-width="1"/>
<text x="0" y="0" transform="translate(333.10,148.00) scale(0.95,1.05)" text-anchor="middle" font-size="6.2" fill="#000">5th</text>
<line x1="353.20" y1="130.85" x2="353.20" y2="135.35" stroke="#222" stroke-width="1"/>
<text x="0" y="0" transform="translate(353.20,148.00) scale(0.95,1.05)" text-anchor="middle" font-size="6.2" fill="#000">50th</text>
<line x1="373.70" y1="130.85" x2="373.70" y2="135.35" stroke="#222" stroke-width="1"/>
<text x="0" y="0" transform="translate(373.70,148.00) scale(0.95,1.05)" text-anchor="middle" font-size="6.2" fill="#000">95th</text>
<line x1="395.80" y1="130.85" x2="395.80" y2="135.35" stroke="#222" stroke-width="1"/>
<text x="0" y="0" transform="translate(395.80,148.00) scale(0.95,1.05)" text-anchor="middle" font-size="6.2" fill="#000">26.3</text>
<g clip-path="url(#p13)">
<polygon points="454.37,108.13 455.71,108.66 457.05,109.17 458.39,109.66 459.73,110.14 461.07,110.60 462.41,111.04 463.74,111.46 465.08,111.88 466.42,112.30 467.76,112.71 469.10,113.11 470.44,113.49 471.78,113.85 473.12,114.21 474.46,114.54 475.79,114.83 477.13,115.10 478.47,115.34 479.81,115.57 481.15,115.77 482.49,115.96 483.83,116.12 485.17,116.28 486.51,116.45 487.84,116.62 489.18,116.79 490.52,116.96 491.86,117.13 493.20,117.30 494.65,117.23 496.11,117.06 497.56,116.82 499.02,116.38 500.47,115.72 501.92,114.94 503.38,113.89 504.83,112.66 506.28,111.37 507.74,109.93 509.19,108.40 510.65,106.80 512.10,105.10 513.55,103.32 515.01,101.46 516.46,99.51 517.91,97.45 519.37,95.23 520.82,93.15 522.28,91.24 523.73,89.40 525.18,87.70 526.64,86.24 528.09,84.84 529.54,83.51 531.00,82.26 532.45,81.13 533.91,80.12 535.36,79.26 535.36,105.45 533.91,105.88 532.45,106.33 531.00,106.78 529.54,107.25 528.09,107.72 526.64,108.22 525.18,108.75 523.73,109.31 522.28,109.86 520.82,110.41 519.37,110.96 517.91,111.50 516.46,112.05 515.01,112.61 513.55,113.18 512.10,113.74 510.65,114.22 509.19,114.60 507.74,114.94 506.28,115.28 504.83,115.70 503.38,116.25 501.92,116.74 500.47,117.04 499.02,117.28 497.56,117.40 496.11,117.40 494.65,117.37 493.20,117.30 491.86,117.31 490.52,117.32 489.18,117.34 487.84,117.37 486.51,117.40 485.17,117.44 483.83,117.50 482.49,117.58 481.15,117.67 479.81,117.81 478.47,117.99 477.13,118.22 475.79,118.49 474.46,118.82 473.12,119.24 471.78,119.72 470.44,120.24 469.10,120.84 467.76,121.53 466.42,122.25 465.08,123.03 463.74,123.86 462.41,124.67 461.07,125.44 459.73,126.21 458.39,126.94 457.05,127.64 455.71,128.31 454.37,128.95" fill="#e5e5e5"/>
<line x1="451.50" y1="117.30" x2="539.30" y2="117.30" stroke="#2a2a2a" stroke-width="1.1"/>
<polyline points="454.37,121.83 455.67,121.51 456.97,121.18 458.26,120.86 459.56,120.53 460.86,120.20 462.16,119.87 463.46,119.54 464.75,119.23 466.05,118.94 467.35,118.67 468.65,118.41 469.94,118.17 471.24,117.94 472.54,117.72 473.84,117.52 475.13,117.34 476.43,117.21 477.73,117.07 479.03,116.96 480.32,116.88 481.62,116.86 482.92,116.86 484.22,116.86 485.51,116.86 486.81,116.86 488.11,116.91 489.41,117.00 490.70,117.10 492.00,117.21 493.30,117.27 494.60,117.33 495.89,117.38 497.19,117.40 498.49,117.34 499.79,117.17 501.08,116.92 502.38,116.54 503.68,115.87 504.98,115.10 506.27,114.33 507.57,113.49 508.87,112.58 510.17,111.61 511.46,110.56 512.76,109.44 514.06,108.26 515.36,107.00 516.65,105.67 517.95,104.27 519.25,102.78 520.55,101.23 521.84,99.70 523.14,98.19 524.44,96.68 525.74,95.16 527.03,93.63 528.33,92.07 529.63,90.41 530.93,88.66" fill="none" stroke="#4a9fe2" stroke-width="1.1" stroke-linejoin="round"/>
</g>
<polyline points="451.50,91.65 451.50,130.85 539.30,130.85" fill="none" stroke="#222" stroke-width="1"/>
<line x1="446.50" y1="129.40" x2="451.50" y2="129.40" stroke="#222" stroke-width="1"/>
<line x1="446.50" y1="117.30" x2="451.50" y2="117.30" stroke="#222" stroke-width="1"/>
<line x1="446.50" y1="105.20" x2="451.50" y2="105.20" stroke="#222" stroke-width="1"/>
<line x1="446.50" y1="93.10" x2="451.50" y2="93.10" stroke="#222" stroke-width="1"/>
<text x="0" y="0" transform="translate(440.30,129.40) rotate(-90) scale(0.98,1.1)" text-anchor="middle" font-size="7.6" fill="#000">0.5</text>
<text x="0" y="0" transform="translate(440.30,105.20) rotate(-90) scale(0.98,1.1)" text-anchor="middle" font-size="7.6" fill="#000">1.5</text>
<text x="0" y="0" transform="translate(424.90,111.25) rotate(-90)" text-anchor="middle" font-size="7.2" fill="#000">RR (Min Temp)</text>
<line x1="452.60" y1="130.85" x2="452.60" y2="135.35" stroke="#222" stroke-width="1"/>
<text x="0" y="0" transform="translate(452.60,148.00) scale(0.95,1.05)" text-anchor="middle" font-size="6.2" fill="#000">21.8</text>
<line x1="473.10" y1="130.85" x2="473.10" y2="135.35" stroke="#222" stroke-width="1"/>
<text x="0" y="0" transform="translate(473.10,148.00) scale(0.95,1.05)" text-anchor="middle" font-size="6.2" fill="#000">5th</text>
<line x1="493.20" y1="130.85" x2="493.20" y2="135.35" stroke="#222" stroke-width="1"/>
<text x="0" y="0" transform="translate(493.20,148.00) scale(0.95,1.05)" text-anchor="middle" font-size="6.2" fill="#000">50th</text>
<line x1="513.70" y1="130.85" x2="513.70" y2="135.35" stroke="#222" stroke-width="1"/>
<text x="0" y="0" transform="translate(513.70,148.00) scale(0.95,1.05)" text-anchor="middle" font-size="6.2" fill="#000">95th</text>
<line x1="535.80" y1="130.85" x2="535.80" y2="135.35" stroke="#222" stroke-width="1"/>
<text x="0" y="0" transform="translate(535.80,148.00) scale(0.95,1.05)" text-anchor="middle" font-size="6.2" fill="#000">26.3</text>
<g clip-path="url(#p14)">
<polygon points="595.04,100.07 596.40,101.09 597.76,102.07 599.13,103.01 600.49,103.92 601.85,104.81 603.21,105.67 604.57,106.48 605.93,107.24 607.29,107.97 608.65,108.66 610.01,109.28 611.37,109.82 612.73,110.31 614.09,110.75 615.45,111.12 616.81,111.42 618.17,111.65 619.53,111.86 620.89,112.09 622.25,112.38 623.62,112.68 624.98,113.02 626.34,113.42 627.70,113.90 629.06,114.50 630.42,115.15 631.78,115.81 633.14,116.53 634.50,117.30 635.92,117.17 637.34,116.91 638.75,116.58 640.17,116.11 641.59,115.46 643.01,114.68 644.43,113.63 645.85,112.36 647.26,110.98 648.68,109.41 650.10,107.67 651.52,105.80 652.94,103.77 654.35,101.52 655.77,98.98 657.19,96.05 658.61,92.53 660.03,89.63 661.45,87.41 662.86,85.76 664.28,84.16 665.70,82.64 667.12,81.21 668.54,79.92 669.95,78.80 671.37,77.87 672.79,77.17 674.21,76.72 675.63,76.57 675.63,98.73 674.21,100.07 672.79,101.36 671.37,102.61 669.95,103.80 668.54,104.94 667.12,106.04 665.70,107.09 664.28,108.08 662.86,109.06 661.45,110.01 660.03,110.87 658.61,111.60 657.19,112.21 655.77,112.75 654.35,113.23 652.94,113.66 651.52,114.01 650.10,114.34 648.68,114.69 647.26,115.11 645.85,115.64 644.43,116.10 643.01,116.41 641.59,116.66 640.17,116.85 638.75,117.00 637.34,117.13 635.92,117.24 634.50,117.30 633.14,117.38 631.78,117.46 630.42,117.55 629.06,117.63 627.70,117.72 626.34,117.83 624.98,117.96 623.62,118.12 622.25,118.31 620.89,118.53 619.53,118.82 618.17,119.17 616.81,119.55 615.45,119.93 614.09,120.35 612.73,120.79 611.37,121.26 610.01,121.73 608.65,122.21 607.29,122.71 605.93,123.24 604.57,123.82 603.21,124.46 601.85,125.15 600.49,125.87 599.13,126.60 597.76,127.35 596.40,128.14 595.04,128.95" fill="#e5e5e5"/>
<line x1="591.50" y1="117.30" x2="679.30" y2="117.30" stroke="#2a2a2a" stroke-width="1.1"/>
<polyline points="595.04,119.82 596.24,119.62 597.43,119.42 598.63,119.21 599.82,119.00 601.02,118.77 602.21,118.53 603.41,118.28 604.60,118.04 605.80,117.79 606.99,117.53 608.19,117.27 609.39,117.04 610.58,116.85 611.78,116.69 612.97,116.55 614.17,116.43 615.36,116.35 616.56,116.30 617.75,116.25 618.95,116.22 620.14,116.20 621.34,116.19 622.53,116.21 623.73,116.27 624.92,116.34 626.12,116.42 627.31,116.51 628.51,116.63 629.70,116.77 630.90,116.89 632.09,117.02 633.29,117.15 634.48,117.24 635.68,117.26 636.87,117.24 638.07,117.20 639.26,117.14 640.46,116.95 641.65,116.58 642.85,116.14 644.04,115.64 645.24,115.04 646.43,114.36 647.63,113.62 648.82,112.78 650.02,111.85 651.21,110.85 652.41,109.73 653.60,108.51 654.80,107.20 655.99,105.84 657.19,104.37 658.38,102.75 659.58,100.91 660.77,98.76 661.97,96.48 663.16,94.13 664.36,91.72 665.55,89.33" fill="none" stroke="#4a9fe2" stroke-width="1.1" stroke-linejoin="round"/>
</g>
<polyline points="591.50,91.65 591.50,130.85 679.30,130.85" fill="none" stroke="#222" stroke-width="1"/>
<line x1="586.50" y1="129.40" x2="591.50" y2="129.40" stroke="#222" stroke-width="1"/>
<line x1="586.50" y1="117.30" x2="591.50" y2="117.30" stroke="#222" stroke-width="1"/>
<line x1="586.50" y1="105.20" x2="591.50" y2="105.20" stroke="#222" stroke-width="1"/>
<line x1="586.50" y1="93.10" x2="591.50" y2="93.10" stroke="#222" stroke-width="1"/>
<text x="0" y="0" transform="translate(580.30,129.40) rotate(-90) scale(0.98,1.1)" text-anchor="middle" font-size="7.6" fill="#000">0.5</text>
<text x="0" y="0" transform="translate(580.30,105.20) rotate(-90) scale(0.98,1.1)" text-anchor="middle" font-size="7.6" fill="#000">1.5</text>
<text x="0" y="0" transform="translate(564.90,111.25) rotate(-90)" text-anchor="middle" font-size="7.2" fill="#000">RR (Min Temp)</text>
<line x1="592.60" y1="130.85" x2="592.60" y2="135.35" stroke="#222" stroke-width="1"/>
<text x="0" y="0" transform="translate(592.60,148.00) scale(0.95,1.05)" text-anchor="middle" font-size="6.2" fill="#000">21.8</text>
<line x1="613.10" y1="130.85" x2="613.10" y2="135.35" stroke="#222" stroke-width="1"/>
<text x="0" y="0" transform="translate(613.10,148.00) scale(0.95,1.05)" text-anchor="middle" font-size="6.2" fill="#000">5th</text>
<line x1="633.20" y1="130.85" x2="633.20" y2="135.35" stroke="#222" stroke-width="1"/>
<text x="0" y="0" transform="translate(633.20,148.00) scale(0.95,1.05)" text-anchor="middle" font-size="6.2" fill="#000">50th</text>
<line x1="653.70" y1="130.85" x2="653.70" y2="135.35" stroke="#222" stroke-width="1"/>
<text x="0" y="0" transform="translate(653.70,148.00) scale(0.95,1.05)" text-anchor="middle" font-size="6.2" fill="#000">95th</text>
<line x1="675.80" y1="130.85" x2="675.80" y2="135.35" stroke="#222" stroke-width="1"/>
<text x="0" y="0" transform="translate(675.80,148.00) scale(0.95,1.05)" text-anchor="middle" font-size="6.2" fill="#000">26.3</text>
<g clip-path="url(#p20)">
<polygon points="36.10,184.13 36.34,184.53 36.58,184.92 36.82,185.32 37.05,185.72 37.29,186.11 37.53,186.51 37.77,186.91 38.01,187.32 38.24,187.74 38.48,188.17 38.72,188.60 38.96,189.01 39.20,189.40 39.43,189.77 39.67,190.10 39.91,190.40 40.15,190.69 40.38,190.97 40.62,191.23 40.86,191.48 41.10,191.71 41.34,191.91 41.57,192.08 41.81,192.23 42.05,192.35 42.29,192.47 42.52,192.57 42.76,192.64 43.00,192.70 45.55,192.00 48.10,191.17 50.65,190.15 53.20,189.29 55.75,188.62 58.30,188.08 60.85,187.64 63.40,187.26 65.95,186.89 68.50,186.55 71.05,186.18 73.60,185.74 76.15,185.23 78.70,184.63 81.25,183.94 83.80,183.12 86.35,182.11 88.90,180.85 91.45,179.42 94.00,177.80 96.55,175.96 99.10,173.95 101.65,171.69 104.21,169.44 106.76,167.29 109.31,165.40 111.86,163.64 114.41,162.04 116.96,160.63 116.96,206.29 114.41,206.27 111.86,206.21 109.31,206.12 106.76,205.99 104.21,205.83 101.65,205.65 99.10,205.44 96.55,205.13 94.00,204.56 91.45,203.88 88.90,203.07 86.35,202.15 83.80,201.30 81.25,200.51 78.70,199.77 76.15,199.09 73.60,198.46 71.05,197.92 68.50,197.49 65.95,197.10 63.40,196.70 60.85,196.30 58.30,195.89 55.75,195.47 53.20,195.02 50.65,194.44 48.10,193.77 45.55,193.20 43.00,192.70 42.76,192.72 42.52,192.74 42.29,192.77 42.05,192.81 41.81,192.85 41.57,192.89 41.34,192.95 41.10,193.02 40.86,193.09 40.62,193.17 40.38,193.26 40.15,193.35 39.91,193.45 39.67,193.56 39.43,193.68 39.20,193.82 38.96,193.97 38.72,194.13 38.48,194.30 38.24,194.48 38.01,194.66 37.77,194.84 37.53,195.02 37.29,195.20 37.05,195.39 36.82,195.59 36.58,195.80 36.34,196.01 36.10,196.22" fill="#e5e5e5"/>
<line x1="33.00" y1="192.70" x2="120.80" y2="192.70" stroke="#2a2a2a" stroke-width="1.1"/>
<polyline points="36.10,190.18 37.47,191.11 38.84,191.85 40.21,192.32 41.59,192.58 42.96,192.68 44.33,192.73 45.70,192.72 47.07,192.70 48.44,192.67 49.81,192.63 51.18,192.59 52.55,192.55 53.92,192.49 55.29,192.42 56.66,192.36 58.03,192.32 59.40,192.28 60.77,192.25 62.14,192.21 63.51,192.20 64.88,192.19 66.25,192.19 67.62,192.19 68.99,192.19 70.36,192.19 71.73,192.19 73.10,192.20 74.47,192.23 75.84,192.26 77.22,192.30 78.59,192.34 79.96,192.38 81.33,192.43 82.70,192.49 84.07,192.56 85.44,192.63 86.81,192.73 88.18,192.84 89.55,192.96 90.92,193.08 92.29,193.21 93.66,193.34 95.03,193.48 96.40,193.62 97.77,193.76 99.14,193.90 100.51,194.04 101.88,194.18 103.25,194.32 104.62,194.45 105.99,194.57 107.36,194.68 108.73,194.78 110.10,194.89 111.47,195.00 112.85,195.13 114.22,195.26 115.59,195.40 116.96,195.55" fill="none" stroke="#4a9fe2" stroke-width="1.1" stroke-linejoin="round"/>
</g>
<polyline points="33.00,167.05 33.00,206.25 120.80,206.25" fill="none" stroke="#222" stroke-width="1"/>
<line x1="28.00" y1="204.80" x2="33.00" y2="204.80" stroke="#222" stroke-width="1"/>
<line x1="28.00" y1="192.70" x2="33.00" y2="192.70" stroke="#222" stroke-width="1"/>
<line x1="28.00" y1="180.60" x2="33.00" y2="180.60" stroke="#222" stroke-width="1"/>
<line x1="28.00" y1="168.50" x2="33.00" y2="168.50" stroke="#222" stroke-width="1"/>
<text x="0" y="0" transform="translate(21.80,204.80) rotate(-90) scale(0.98,1.1)" text-anchor="middle" font-size="7.6" fill="#000">0.5</text>
<text x="0" y="0" transform="translate(21.80,180.60) rotate(-90) scale(0.98,1.1)" text-anchor="middle" font-size="7.6" fill="#000">1.5</text>
<text x="0" y="0" transform="translate(6.40,186.65) rotate(-90)" text-anchor="middle" font-size="7.2" fill="#000">RR (Rainfall)</text>
<line x1="36.30" y1="206.25" x2="36.30" y2="210.75" stroke="#222" stroke-width="1"/>
<text x="0" y="0" transform="translate(36.30,223.40) scale(0.95,1.05)" text-anchor="middle" font-size="6.2" fill="#000">0.0</text>
<line x1="45.10" y1="206.25" x2="45.10" y2="210.75" stroke="#222" stroke-width="1"/>
<line x1="67.40" y1="206.25" x2="67.40" y2="210.75" stroke="#222" stroke-width="1"/>
<text x="0" y="0" transform="translate(67.40,223.40) scale(0.95,1.05)" text-anchor="middle" font-size="6.2" fill="#000">95th</text>
<line x1="118.10" y1="206.25" x2="118.10" y2="210.75" stroke="#222" stroke-width="1"/>
<text x="0" y="0" transform="translate(118.10,223.40) scale(0.95,1.05)" text-anchor="middle" font-size="6.2" fill="#000">414.5</text>
<g clip-path="url(#p21)">
<polygon points="176.04,186.41 176.31,186.76 176.58,187.11 176.85,187.45 177.11,187.80 177.38,188.15 177.65,188.52 177.92,188.90 178.18,189.29 178.45,189.68 178.72,190.05 178.99,190.39 179.25,190.70 179.52,190.96 179.79,191.21 180.06,191.46 180.32,191.69 180.59,191.90 180.86,192.08 181.13,192.22 181.39,192.32 181.66,192.39 181.93,192.45 182.20,192.51 182.46,192.56 182.73,192.61 183.00,192.65 183.27,192.68 183.53,192.69 183.80,192.70 186.31,191.68 188.82,190.76 191.33,189.92 193.85,189.26 196.36,188.73 198.87,188.27 201.38,187.87 203.89,187.52 206.40,187.20 208.91,186.95 211.42,186.72 213.94,186.43 216.45,186.07 218.96,185.62 221.47,185.04 223.98,184.28 226.49,183.43 229.00,182.51 231.51,181.48 234.03,180.37 236.54,179.15 239.05,177.84 241.56,176.45 244.07,174.94 246.58,173.37 249.09,171.69 251.61,169.98 254.12,168.31 256.63,166.67 256.63,206.02 254.12,205.92 251.61,205.74 249.09,205.50 246.58,205.22 244.07,204.85 241.56,204.36 239.05,203.85 236.54,203.31 234.03,202.74 231.51,202.15 229.00,201.55 226.49,200.94 223.98,200.33 221.47,199.72 218.96,199.14 216.45,198.57 213.94,198.02 211.42,197.53 208.91,197.08 206.40,196.65 203.89,196.23 201.38,195.84 198.87,195.44 196.36,195.04 193.85,194.64 191.33,194.22 188.82,193.79 186.31,193.29 183.80,192.70 183.53,192.70 183.27,192.71 183.00,192.72 182.73,192.74 182.46,192.76 182.20,192.78 181.93,192.81 181.66,192.83 181.39,192.86 181.13,192.91 180.86,192.97 180.59,193.06 180.32,193.15 180.06,193.26 179.79,193.37 179.52,193.48 179.25,193.60 178.99,193.72 178.72,193.85 178.45,193.99 178.18,194.14 177.92,194.29 177.65,194.45 177.38,194.61 177.11,194.78 176.85,194.96 176.58,195.15 176.31,195.34 176.04,195.55" fill="#e5e5e5"/>
<line x1="172.50" y1="192.70" x2="260.30" y2="192.70" stroke="#2a2a2a" stroke-width="1.1"/>
<polyline points="176.04,191.25 177.41,191.74 178.78,192.09 180.14,192.37 181.51,192.56 182.87,192.71 184.24,192.72 185.60,192.68 186.97,192.62 188.34,192.55 189.70,192.48 191.07,192.42 192.43,192.37 193.80,192.31 195.17,192.26 196.53,192.20 197.90,192.14 199.26,192.07 200.63,192.00 201.99,191.95 203.36,191.92 204.73,191.92 206.09,191.92 207.46,191.92 208.82,191.92 210.19,191.92 211.56,191.92 212.92,191.92 214.29,191.92 215.65,191.92 217.02,191.92 218.38,191.94 219.75,191.99 221.12,192.06 222.48,192.13 223.85,192.19 225.21,192.25 226.58,192.30 227.95,192.36 229.31,192.41 230.68,192.47 232.04,192.52 233.41,192.58 234.77,192.63 236.14,192.69 237.51,192.74 238.87,192.79 240.24,192.84 241.60,192.90 242.97,192.95 244.34,193.02 245.70,193.09 247.07,193.17 248.43,193.26 249.80,193.35 251.16,193.44 252.53,193.52 253.90,193.61 255.26,193.71 256.63,193.80" fill="none" stroke="#4a9fe2" stroke-width="1.1" stroke-linejoin="round"/>
</g>
<polyline points="172.50,167.05 172.50,206.25 260.30,206.25" fill="none" stroke="#222" stroke-width="1"/>
<line x1="167.50" y1="204.80" x2="172.50" y2="204.80" stroke="#222" stroke-width="1"/>
<line x1="167.50" y1="192.70" x2="172.50" y2="192.70" stroke="#222" stroke-width="1"/>
<line x1="167.50" y1="180.60" x2="172.50" y2="180.60" stroke="#222" stroke-width="1"/>
<line x1="167.50" y1="168.50" x2="172.50" y2="168.50" stroke="#222" stroke-width="1"/>
<text x="0" y="0" transform="translate(161.30,204.80) rotate(-90) scale(0.98,1.1)" text-anchor="middle" font-size="7.6" fill="#000">0.5</text>
<text x="0" y="0" transform="translate(161.30,180.60) rotate(-90) scale(0.98,1.1)" text-anchor="middle" font-size="7.6" fill="#000">1.5</text>
<text x="0" y="0" transform="translate(145.90,186.65) rotate(-90)" text-anchor="middle" font-size="7.2" fill="#000">RR (Rainfall)</text>
<line x1="175.80" y1="206.25" x2="175.80" y2="210.75" stroke="#222" stroke-width="1"/>
<text x="0" y="0" transform="translate(175.80,223.40) scale(0.95,1.05)" text-anchor="middle" font-size="6.2" fill="#000">0.0</text>
<line x1="184.60" y1="206.25" x2="184.60" y2="210.75" stroke="#222" stroke-width="1"/>
<line x1="206.90" y1="206.25" x2="206.90" y2="210.75" stroke="#222" stroke-width="1"/>
<text x="0" y="0" transform="translate(206.90,223.40) scale(0.95,1.05)" text-anchor="middle" font-size="6.2" fill="#000">95th</text>
<line x1="257.60" y1="206.25" x2="257.60" y2="210.75" stroke="#222" stroke-width="1"/>
<text x="0" y="0" transform="translate(257.60,223.40) scale(0.95,1.05)" text-anchor="middle" font-size="6.2" fill="#000">414.5</text>
<g clip-path="url(#p22)">
<polygon points="315.04,187.22 315.31,187.54 315.58,187.86 315.85,188.18 316.11,188.50 316.38,188.83 316.65,189.16 316.92,189.51 317.18,189.86 317.45,190.22 317.72,190.55 317.99,190.86 318.25,191.12 318.52,191.35 318.79,191.56 319.06,191.76 319.32,191.95 319.59,192.12 319.86,192.27 320.13,192.38 320.39,192.45 320.66,192.50 320.93,192.54 321.20,192.58 321.46,192.62 321.73,192.64 322.00,192.67 322.27,192.69 322.53,192.70 322.80,192.70 325.31,191.88 327.82,191.09 330.33,190.31 332.85,189.67 335.36,189.15 337.87,188.68 340.38,188.24 342.89,187.82 345.40,187.47 347.91,187.21 350.42,186.98 352.94,186.70 355.45,186.39 357.96,186.01 360.47,185.50 362.98,184.84 365.49,184.11 368.00,183.32 370.51,182.46 373.03,181.49 375.54,180.39 378.05,179.17 380.56,177.83 383.07,176.33 385.58,174.71 388.09,172.89 390.61,170.95 393.12,169.02 395.63,167.07 395.63,205.22 393.12,205.16 390.61,205.01 388.09,204.80 385.58,204.55 383.07,204.16 380.56,203.60 378.05,203.03 375.54,202.44 373.03,201.82 370.51,201.18 368.00,200.52 365.49,199.87 362.98,199.24 360.47,198.64 357.96,198.07 355.45,197.55 352.94,197.06 350.42,196.62 347.91,196.22 345.40,195.84 342.89,195.46 340.38,195.11 337.87,194.80 335.36,194.55 332.85,194.31 330.33,194.04 327.82,193.74 325.31,193.32 322.80,192.70 322.53,192.70 322.27,192.71 322.00,192.72 321.73,192.74 321.46,192.76 321.20,192.78 320.93,192.81 320.66,192.83 320.39,192.86 320.13,192.91 319.86,192.97 319.59,193.06 319.32,193.15 319.06,193.26 318.79,193.37 318.52,193.48 318.25,193.59 317.99,193.71 317.72,193.84 317.45,193.97 317.18,194.12 316.92,194.27 316.65,194.43 316.38,194.61 316.11,194.81 315.85,195.03 315.58,195.28 315.31,195.54 315.04,195.82" fill="#e5e5e5"/>
<line x1="311.50" y1="192.70" x2="399.30" y2="192.70" stroke="#2a2a2a" stroke-width="1.1"/>
<polyline points="315.04,192.19 316.41,192.39 317.78,192.50 319.14,192.57 320.51,192.64 321.87,192.72 323.24,192.72 324.60,192.68 325.97,192.62 327.34,192.55 328.70,192.48 330.07,192.41 331.43,192.33 332.80,192.25 334.17,192.16 335.53,192.08 336.90,191.99 338.26,191.89 339.63,191.80 340.99,191.72 342.36,191.66 343.73,191.62 345.09,191.58 346.46,191.55 347.82,191.53 349.19,191.52 350.56,191.52 351.92,191.52 353.29,191.52 354.65,191.52 356.02,191.52 357.38,191.53 358.75,191.55 360.12,191.58 361.48,191.62 362.85,191.66 364.21,191.70 365.58,191.75 366.95,191.81 368.31,191.87 369.68,191.93 371.04,191.99 372.41,192.04 373.77,192.09 375.14,192.15 376.51,192.20 377.87,192.26 379.24,192.32 380.60,192.38 381.97,192.43 383.34,192.47 384.70,192.51 386.07,192.54 387.43,192.57 388.80,192.59 390.16,192.59 391.53,192.59 392.90,192.59 394.26,192.59 395.63,192.59" fill="none" stroke="#4a9fe2" stroke-width="1.1" stroke-linejoin="round"/>
</g>
<polyline points="311.50,167.05 311.50,206.25 399.30,206.25" fill="none" stroke="#222" stroke-width="1"/>
<line x1="306.50" y1="204.80" x2="311.50" y2="204.80" stroke="#222" stroke-width="1"/>
<line x1="306.50" y1="192.70" x2="311.50" y2="192.70" stroke="#222" stroke-width="1"/>
<line x1="306.50" y1="180.60" x2="311.50" y2="180.60" stroke="#222" stroke-width="1"/>
<line x1="306.50" y1="168.50" x2="311.50" y2="168.50" stroke="#222" stroke-width="1"/>
<text x="0" y="0" transform="translate(300.30,204.80) rotate(-90) scale(0.98,1.1)" text-anchor="middle" font-size="7.6" fill="#000">0.5</text>
<text x="0" y="0" transform="translate(300.30,180.60) rotate(-90) scale(0.98,1.1)" text-anchor="middle" font-size="7.6" fill="#000">1.5</text>
<text x="0" y="0" transform="translate(284.90,186.65) rotate(-90)" text-anchor="middle" font-size="7.2" fill="#000">RR (Rainfall)</text>
<line x1="314.80" y1="206.25" x2="314.80" y2="210.75" stroke="#222" stroke-width="1"/>
<text x="0" y="0" transform="translate(314.80,223.40) scale(0.95,1.05)" text-anchor="middle" font-size="6.2" fill="#000">0.0</text>
<line x1="323.60" y1="206.25" x2="323.60" y2="210.75" stroke="#222" stroke-width="1"/>
<line x1="345.90" y1="206.25" x2="345.90" y2="210.75" stroke="#222" stroke-width="1"/>
<text x="0" y="0" transform="translate(345.90,223.40) scale(0.95,1.05)" text-anchor="middle" font-size="6.2" fill="#000">95th</text>
<line x1="396.60" y1="206.25" x2="396.60" y2="210.75" stroke="#222" stroke-width="1"/>
<text x="0" y="0" transform="translate(396.60,223.40) scale(0.95,1.05)" text-anchor="middle" font-size="6.2" fill="#000">414.5</text>
<g clip-path="url(#p23)">
<polygon points="454.37,187.22 454.66,187.49 454.94,187.77 455.22,188.05 455.51,188.35 455.79,188.64 456.07,188.97 456.36,189.31 456.64,189.66 456.93,190.01 457.21,190.33 457.49,190.63 457.78,190.89 458.06,191.12 458.34,191.36 458.63,191.58 458.91,191.78 459.20,191.95 459.48,192.09 459.76,192.20 460.05,192.28 460.33,192.35 460.61,192.43 460.90,192.49 461.18,192.55 461.47,192.60 461.75,192.64 462.03,192.67 462.32,192.69 462.60,192.70 465.11,191.93 467.62,191.16 470.13,190.37 472.64,189.72 475.14,189.19 477.65,188.72 480.16,188.29 482.67,187.88 485.18,187.50 487.69,187.16 490.20,186.84 492.71,186.41 495.22,185.82 497.73,185.10 500.23,184.28 502.74,183.28 505.25,182.19 507.76,181.04 510.27,179.79 512.78,178.37 515.29,176.71 517.80,174.86 520.31,172.87 522.81,170.66 525.32,168.23 527.83,165.88 530.34,163.86 532.85,162.08 535.36,160.63 535.36,205.22 532.85,205.16 530.34,205.00 527.83,204.78 525.32,204.52 522.81,204.10 520.31,203.54 517.80,202.97 515.29,202.38 512.78,201.75 510.27,201.12 507.76,200.45 505.25,199.81 502.74,199.18 500.23,198.58 497.73,198.02 495.22,197.50 492.71,197.02 490.20,196.58 487.69,196.18 485.18,195.80 482.67,195.43 480.16,195.08 477.65,194.78 475.14,194.53 472.64,194.29 470.13,194.02 467.62,193.71 465.11,193.28 462.60,192.70 462.32,192.70 462.03,192.71 461.75,192.72 461.47,192.73 461.18,192.74 460.90,192.76 460.61,192.78 460.33,192.81 460.05,192.83 459.76,192.86 459.48,192.90 459.20,192.96 458.91,193.05 458.63,193.15 458.34,193.26 458.06,193.39 457.78,193.51 457.49,193.65 457.21,193.80 456.93,193.98 456.64,194.17 456.36,194.37 456.07,194.59 455.79,194.81 455.51,195.05 455.22,195.32 454.94,195.60 454.66,195.90 454.37,196.22" fill="#e5e5e5"/>
<line x1="451.50" y1="192.70" x2="539.30" y2="192.70" stroke="#2a2a2a" stroke-width="1.1"/>
<polyline points="454.37,192.46 455.74,192.55 457.12,192.59 458.49,192.59 459.86,192.59 461.24,192.67 462.61,192.73 463.98,192.71 465.35,192.66 466.73,192.59 468.10,192.52 469.47,192.44 470.84,192.34 472.22,192.23 473.59,192.11 474.96,191.99 476.33,191.89 477.71,191.79 479.08,191.70 480.45,191.61 481.83,191.54 483.20,191.50 484.57,191.47 485.94,191.44 487.32,191.42 488.69,191.40 490.06,191.37 491.43,191.34 492.81,191.31 494.18,191.29 495.55,191.26 496.92,191.23 498.30,191.19 499.67,191.16 501.04,191.13 502.42,191.12 503.79,191.12 505.16,191.12 506.53,191.12 507.91,191.12 509.28,191.12 510.65,191.12 512.02,191.12 513.40,191.12 514.77,191.12 516.14,191.12 517.51,191.12 518.89,191.12 520.26,191.12 521.63,191.12 523.01,191.12 524.38,191.12 525.75,191.12 527.12,191.12 528.50,191.12 529.87,191.12 531.24,191.12 532.61,191.12 533.99,191.12 535.36,191.12" fill="none" stroke="#4a9fe2" stroke-width="1.1" stroke-linejoin="round"/>
</g>
<polyline points="451.50,167.05 451.50,206.25 539.30,206.25" fill="none" stroke="#222" stroke-width="1"/>
<line x1="446.50" y1="204.80" x2="451.50" y2="204.80" stroke="#222" stroke-width="1"/>
<line x1="446.50" y1="192.70" x2="451.50" y2="192.70" stroke="#222" stroke-width="1"/>
<line x1="446.50" y1="180.60" x2="451.50" y2="180.60" stroke="#222" stroke-width="1"/>
<line x1="446.50" y1="168.50" x2="451.50" y2="168.50" stroke="#222" stroke-width="1"/>
<text x="0" y="0" transform="translate(440.30,204.80) rotate(-90) scale(0.98,1.1)" text-anchor="middle" font-size="7.6" fill="#000">0.5</text>
<text x="0" y="0" transform="translate(440.30,180.60) rotate(-90) scale(0.98,1.1)" text-anchor="middle" font-size="7.6" fill="#000">1.5</text>
<text x="0" y="0" transform="translate(424.90,186.65) rotate(-90)" text-anchor="middle" font-size="7.2" fill="#000">RR (Rainfall)</text>
<line x1="454.80" y1="206.25" x2="454.80" y2="210.75" stroke="#222" stroke-width="1"/>
<text x="0" y="0" transform="translate(454.80,223.40) scale(0.95,1.05)" text-anchor="middle" font-size="6.2" fill="#000">0.0</text>
<line x1="463.60" y1="206.25" x2="463.60" y2="210.75" stroke="#222" stroke-width="1"/>
<line x1="485.90" y1="206.25" x2="485.90" y2="210.75" stroke="#222" stroke-width="1"/>
<text x="0" y="0" transform="translate(485.90,223.40) scale(0.95,1.05)" text-anchor="middle" font-size="6.2" fill="#000">95th</text>
<line x1="536.60" y1="206.25" x2="536.60" y2="210.75" stroke="#222" stroke-width="1"/>
<text x="0" y="0" transform="translate(536.60,223.40) scale(0.95,1.05)" text-anchor="middle" font-size="6.2" fill="#000">414.5</text>
<g clip-path="url(#p24)">
<polygon points="595.04,186.82 595.30,187.17 595.56,187.52 595.83,187.86 596.09,188.19 596.35,188.51 596.61,188.83 596.87,189.16 597.13,189.48 597.39,189.79 597.65,190.10 597.91,190.38 598.17,190.64 598.43,190.87 598.69,191.09 598.95,191.30 599.21,191.50 599.47,191.69 599.73,191.86 599.99,192.00 600.25,192.13 600.52,192.22 600.78,192.31 601.04,192.40 601.30,192.48 601.56,192.55 601.82,192.61 602.08,192.66 602.34,192.69 602.60,192.70 605.12,191.78 607.64,190.72 610.15,189.50 612.67,188.58 615.19,187.92 617.71,187.38 620.23,186.93 622.75,186.55 625.26,186.15 627.78,185.69 630.30,185.18 632.82,184.59 635.34,183.88 637.85,183.07 640.37,182.21 642.89,181.27 645.41,180.10 647.93,178.48 650.45,176.38 652.96,173.72 655.48,170.43 658.00,166.55 660.52,162.96 663.04,160.38 665.55,157.95 668.07,155.82 670.59,154.12 673.11,152.99 675.63,152.57 675.63,205.62 673.11,205.59 670.59,205.51 668.07,205.38 665.55,205.22 663.04,204.89 660.52,204.38 658.00,203.82 655.48,203.19 652.96,202.50 650.45,201.77 647.93,201.00 645.41,200.25 642.89,199.56 640.37,198.90 637.85,198.31 635.34,197.78 632.82,197.30 630.30,196.90 627.78,196.56 625.26,196.22 622.75,195.86 620.23,195.50 617.71,195.17 615.19,194.89 612.67,194.59 610.15,194.21 607.64,193.76 605.12,193.26 602.60,192.70 602.34,192.71 602.08,192.74 601.82,192.78 601.56,192.83 601.30,192.89 601.04,192.96 600.78,193.03 600.52,193.10 600.25,193.18 599.99,193.28 599.73,193.40 599.47,193.54 599.21,193.69 598.95,193.85 598.69,194.02 598.43,194.19 598.17,194.36 597.91,194.53 597.65,194.72 597.39,194.92 597.13,195.13 596.87,195.36 596.61,195.60 596.35,195.86 596.09,196.14 595.83,196.46 595.56,196.81 595.30,197.18 595.04,197.56" fill="#e5e5e5"/>
<line x1="591.50" y1="192.70" x2="679.30" y2="192.70" stroke="#2a2a2a" stroke-width="1.1"/>
<polyline points="595.04,192.59 596.41,192.67 597.78,192.72 599.14,192.73 600.51,192.73 601.87,192.73 603.24,192.72 604.60,192.69 605.97,192.63 607.34,192.56 608.70,192.48 610.07,192.40 611.43,192.30 612.80,192.19 614.17,192.07 615.53,191.95 616.90,191.84 618.26,191.72 619.63,191.61 620.99,191.50 622.36,191.40 623.73,191.31 625.09,191.22 626.46,191.13 627.82,191.06 629.19,190.99 630.56,190.92 631.92,190.87 633.29,190.82 634.65,190.76 636.02,190.71 637.38,190.66 638.75,190.60 640.12,190.55 641.48,190.49 642.85,190.44 644.21,190.38 645.58,190.33 646.95,190.27 648.31,190.22 649.68,190.17 651.04,190.11 652.41,190.05 653.77,189.99 655.14,189.94 656.51,189.90 657.87,189.87 659.24,189.84 660.60,189.82 661.97,189.79 663.34,189.76 664.70,189.71 666.07,189.65 667.43,189.58 668.80,189.53 670.16,189.49 671.53,189.45 672.90,189.42 674.26,189.39 675.63,189.37" fill="none" stroke="#4a9fe2" stroke-width="1.1" stroke-linejoin="round"/>
</g>
<polyline points="591.50,167.05 591.50,206.25 679.30,206.25" fill="none" stroke="#222" stroke-width="1"/>
<line x1="586.50" y1="204.80" x2="591.50" y2="204.80" stroke="#222" stroke-width="1"/>
<line x1="586.50" y1="192.70" x2="591.50" y2="192.70" stroke="#222" stroke-width="1"/>
<line x1="586.50" y1="180.60" x2="591.50" y2="180.60" stroke="#222" stroke-width="1"/>
<line x1="586.50" y1="168.50" x2="591.50" y2="168.50" stroke="#222" stroke-width="1"/>
<text x="0" y="0" transform="translate(580.30,204.80) rotate(-90) scale(0.98,1.1)" text-anchor="middle" font-size="7.6" fill="#000">0.5</text>
<text x="0" y="0" transform="translate(580.30,180.60) rotate(-90) scale(0.98,1.1)" text-anchor="middle" font-size="7.6" fill="#000">1.5</text>
<text x="0" y="0" transform="translate(564.90,186.65) rotate(-90)" text-anchor="middle" font-size="7.2" fill="#000">RR (Rainfall)</text>
<line x1="594.80" y1="206.25" x2="594.80" y2="210.75" stroke="#222" stroke-width="1"/>
<text x="0" y="0" transform="translate(594.80,223.40) scale(0.95,1.05)" text-anchor="middle" font-size="6.2" fill="#000">0.0</text>
<line x1="603.60" y1="206.25" x2="603.60" y2="210.75" stroke="#222" stroke-width="1"/>
<line x1="625.90" y1="206.25" x2="625.90" y2="210.75" stroke="#222" stroke-width="1"/>
<text x="0" y="0" transform="translate(625.90,223.40) scale(0.95,1.05)" text-anchor="middle" font-size="6.2" fill="#000">95th</text>
<line x1="676.60" y1="206.25" x2="676.60" y2="210.75" stroke="#222" stroke-width="1"/>
<text x="0" y="0" transform="translate(676.60,223.40) scale(0.95,1.05)" text-anchor="middle" font-size="6.2" fill="#000">414.5</text>
<g clip-path="url(#p30)">
<polygon points="36.10,249.31 37.82,252.17 39.54,254.76 41.27,257.36 42.99,260.04 44.71,262.42 46.43,264.38 48.15,266.18 49.87,267.99 51.59,269.56 53.31,270.90 55.03,272.10 56.75,273.16 58.47,274.06 60.19,274.86 61.91,275.57 63.63,276.17 65.35,276.65 67.07,277.05 68.79,277.39 70.51,277.68 72.24,277.90 73.96,278.08 75.68,278.24 77.40,278.39 79.12,278.52 80.84,278.64 82.56,278.76 84.28,278.88 86.00,279.00 87.07,278.89 88.13,278.80 89.20,278.74 90.27,278.73 91.34,278.74 92.40,278.78 93.47,278.83 94.54,278.89 95.61,279.02 96.67,279.22 97.74,279.44 98.81,279.70 99.88,280.04 100.94,280.43 102.01,280.82 103.08,281.18 104.15,281.56 105.21,281.92 106.28,282.24 107.35,282.51 108.42,282.76 109.48,283.00 110.55,283.23 111.62,283.47 112.69,283.69 113.75,283.89 114.82,284.03 115.89,284.15 116.96,284.23 116.96,291.22 115.89,291.06 114.82,290.82 113.75,290.53 112.69,290.11 111.62,289.62 110.55,289.09 109.48,288.55 108.42,287.96 107.35,287.34 106.28,286.69 105.21,286.01 104.15,285.28 103.08,284.55 102.01,283.86 100.94,283.17 99.88,282.50 98.81,281.88 97.74,281.35 96.67,280.85 95.61,280.40 94.54,280.04 93.47,279.79 92.40,279.58 91.34,279.41 90.27,279.28 89.20,279.18 88.13,279.10 87.07,279.03 86.00,279.00 84.28,279.11 82.56,279.22 80.84,279.32 79.12,279.41 77.40,279.50 75.68,279.58 73.96,279.67 72.24,279.75 70.51,279.83 68.79,279.92 67.07,280.06 65.35,280.23 63.63,280.43 61.91,280.65 60.19,280.90 58.47,281.18 56.75,281.46 55.03,281.77 53.31,282.07 51.59,282.38 49.87,282.67 48.15,282.97 46.43,283.29 44.71,283.66 42.99,284.02 41.27,284.30 39.54,284.54 37.82,284.75 36.10,284.91" fill="#e5e5e5"/>
<line x1="33.00" y1="279.00" x2="120.80" y2="279.00" stroke="#2a2a2a" stroke-width="1.1"/>
<polyline points="36.10,271.88 37.47,272.26 38.84,272.65 40.21,273.04 41.59,273.44 42.96,273.85 44.33,274.27 45.70,274.68 47.07,275.09 48.44,275.48 49.81,275.86 51.18,276.23 52.55,276.59 53.92,276.96 55.29,277.32 56.66,277.66 58.03,277.96 59.40,278.24 60.77,278.50 62.14,278.72 63.51,278.89 64.88,279.02 66.25,279.13 67.62,279.22 68.99,279.28 70.36,279.33 71.73,279.37 73.10,279.39 74.47,279.40 75.84,279.37 77.22,279.33 78.59,279.29 79.96,279.24 81.33,279.19 82.70,279.13 84.07,279.07 85.44,279.02 86.81,278.97 88.18,278.93 89.55,278.89 90.92,278.86 92.29,278.91 93.66,279.13 95.03,279.43 96.40,279.78 97.77,280.25 99.14,280.75 100.51,281.21 101.88,281.67 103.25,282.13 104.62,282.58 105.99,283.04 107.36,283.50 108.73,283.96 110.10,284.41 111.47,284.87 112.85,285.32 114.22,285.77 115.59,286.21 116.96,286.65" fill="none" stroke="#4a9fe2" stroke-width="1.1" stroke-linejoin="round"/>
</g>
<polyline points="33.00,253.35 33.00,292.55 120.80,292.55" fill="none" stroke="#222" stroke-width="1"/>
<line x1="28.00" y1="291.10" x2="33.00" y2="291.10" stroke="#222" stroke-width="1"/>
<line x1="28.00" y1="279.00" x2="33.00" y2="279.00" stroke="#222" stroke-width="1"/>
<line x1="28.00" y1="266.90" x2="33.00" y2="266.90" stroke="#222" stroke-width="1"/>
<line x1="28.00" y1="254.80" x2="33.00" y2="254.80" stroke="#222" stroke-width="1"/>
<text x="0" y="0" transform="translate(21.80,291.10) rotate(-90) scale(0.98,1.1)" text-anchor="middle" font-size="7.6" fill="#000">0.5</text>
<text x="0" y="0" transform="translate(21.80,266.90) rotate(-90) scale(0.98,1.1)" text-anchor="middle" font-size="7.6" fill="#000">1.5</text>
<text x="0" y="0" transform="translate(6.40,272.95) rotate(-90)" text-anchor="middle" font-size="7.2" fill="#000">RR (Sunshine hours)</text>
<line x1="35.00" y1="292.55" x2="35.00" y2="297.05" stroke="#222" stroke-width="1"/>
<text x="0" y="0" transform="translate(35.00,309.70) scale(0.95,1.05)" text-anchor="middle" font-size="6.2" fill="#000">11.2</text>
<line x1="59.80" y1="292.55" x2="59.80" y2="297.05" stroke="#222" stroke-width="1"/>
<text x="0" y="0" transform="translate(59.80,309.70) scale(0.95,1.05)" text-anchor="middle" font-size="6.2" fill="#000">5th</text>
<line x1="85.20" y1="292.55" x2="85.20" y2="297.05" stroke="#222" stroke-width="1"/>
<text x="0" y="0" transform="translate(85.20,309.70) scale(0.95,1.05)" text-anchor="middle" font-size="6.2" fill="#000">50th</text>
<line x1="104.20" y1="292.55" x2="104.20" y2="297.05" stroke="#222" stroke-width="1"/>
<text x="0" y="0" transform="translate(104.20,309.70) scale(0.95,1.05)" text-anchor="middle" font-size="6.2" fill="#000">95th</text>
<line x1="117.30" y1="292.55" x2="117.30" y2="297.05" stroke="#222" stroke-width="1"/>
<g clip-path="url(#p31)">
<polygon points="176.04,263.42 177.76,264.39 179.48,265.38 181.19,266.36 182.91,267.35 184.62,268.34 186.34,269.32 188.05,270.29 189.77,271.25 191.49,272.14 193.20,272.99 194.92,273.78 196.63,274.48 198.35,275.07 200.06,275.60 201.78,276.06 203.50,276.47 205.21,276.83 206.93,277.14 208.64,277.40 210.36,277.62 212.07,277.82 213.79,278.01 215.51,278.19 217.22,278.36 218.94,278.51 220.65,278.65 222.37,278.78 224.08,278.90 225.80,279.00 226.86,278.96 227.93,278.91 228.99,278.83 230.05,278.75 231.12,278.65 232.18,278.55 233.24,278.43 234.30,278.27 235.37,278.10 236.43,277.92 237.49,277.72 238.56,277.50 239.62,277.26 240.68,277.00 241.75,276.75 242.81,276.52 243.87,276.30 244.93,276.09 246.00,275.88 247.06,275.67 248.12,275.46 249.19,275.25 250.25,275.03 251.31,274.82 252.38,274.61 253.44,274.40 254.50,274.18 255.56,273.97 256.63,273.76 256.63,288.53 255.56,288.25 254.50,287.95 253.44,287.64 252.38,287.32 251.31,286.99 250.25,286.64 249.19,286.29 248.12,285.92 247.06,285.55 246.00,285.16 244.93,284.77 243.87,284.36 242.81,283.94 241.75,283.51 240.68,283.04 239.62,282.57 238.56,282.11 237.49,281.68 236.43,281.28 235.37,280.88 234.30,280.50 233.24,280.16 232.18,279.88 231.12,279.68 230.05,279.48 228.99,279.31 227.93,279.17 226.86,279.06 225.80,279.00 224.08,279.12 222.37,279.24 220.65,279.37 218.94,279.49 217.22,279.61 215.51,279.74 213.79,279.87 212.07,280.01 210.36,280.17 208.64,280.35 206.93,280.56 205.21,280.80 203.50,281.07 201.78,281.35 200.06,281.64 198.35,281.95 196.63,282.26 194.92,282.59 193.20,282.94 191.49,283.29 189.77,283.67 188.05,284.05 186.34,284.45 184.62,284.87 182.91,285.31 181.19,285.74 179.48,286.14 177.76,286.54 176.04,286.92" fill="#e5e5e5"/>
<line x1="172.50" y1="279.00" x2="260.30" y2="279.00" stroke="#2a2a2a" stroke-width="1.1"/>
<polyline points="176.04,277.52 177.41,277.59 178.78,277.66 180.14,277.74 181.51,277.81 182.87,277.89 184.24,277.97 185.60,278.05 186.97,278.14 188.34,278.23 189.70,278.30 191.07,278.37 192.43,278.42 193.80,278.48 195.17,278.53 196.53,278.58 197.90,278.64 199.26,278.70 200.63,278.76 201.99,278.81 203.36,278.86 204.73,278.89 206.09,278.93 207.46,278.96 208.82,278.99 210.19,279.00 211.56,279.00 212.92,279.00 214.29,279.00 215.65,279.00 217.02,279.00 218.38,279.00 219.75,279.00 221.12,279.00 222.48,279.00 223.85,279.00 225.21,279.00 226.58,279.00 227.95,279.01 229.31,279.04 230.68,279.09 232.04,279.14 233.41,279.26 234.77,279.45 236.14,279.65 237.51,279.85 238.87,280.04 240.24,280.25 241.60,280.46 242.97,280.68 244.34,280.92 245.70,281.17 247.07,281.41 248.43,281.63 249.80,281.86 251.16,282.08 252.53,282.27 253.90,282.42 255.26,282.53 256.63,282.62" fill="none" stroke="#4a9fe2" stroke-width="1.1" stroke-linejoin="round"/>
</g>
<polyline points="172.50,253.35 172.50,292.55 260.30,292.55" fill="none" stroke="#222" stroke-width="1"/>
<line x1="167.50" y1="291.10" x2="172.50" y2="291.10" stroke="#222" stroke-width="1"/>
<line x1="167.50" y1="279.00" x2="172.50" y2="279.00" stroke="#222" stroke-width="1"/>
<line x1="167.50" y1="266.90" x2="172.50" y2="266.90" stroke="#222" stroke-width="1"/>
<line x1="167.50" y1="254.80" x2="172.50" y2="254.80" stroke="#222" stroke-width="1"/>
<text x="0" y="0" transform="translate(161.30,291.10) rotate(-90) scale(0.98,1.1)" text-anchor="middle" font-size="7.6" fill="#000">0.5</text>
<text x="0" y="0" transform="translate(161.30,266.90) rotate(-90) scale(0.98,1.1)" text-anchor="middle" font-size="7.6" fill="#000">1.5</text>
<text x="0" y="0" transform="translate(145.90,272.95) rotate(-90)" text-anchor="middle" font-size="7.2" fill="#000">RR (Sunshine hours)</text>
<line x1="174.50" y1="292.55" x2="174.50" y2="297.05" stroke="#222" stroke-width="1"/>
<text x="0" y="0" transform="translate(174.50,309.70) scale(0.95,1.05)" text-anchor="middle" font-size="6.2" fill="#000">11.2</text>
<line x1="199.30" y1="292.55" x2="199.30" y2="297.05" stroke="#222" stroke-width="1"/>
<text x="0" y="0" transform="translate(199.30,309.70) scale(0.95,1.05)" text-anchor="middle" font-size="6.2" fill="#000">5th</text>
<line x1="224.70" y1="292.55" x2="224.70" y2="297.05" stroke="#222" stroke-width="1"/>
<text x="0" y="0" transform="translate(224.70,309.70) scale(0.95,1.05)" text-anchor="middle" font-size="6.2" fill="#000">50th</text>
<line x1="243.70" y1="292.55" x2="243.70" y2="297.05" stroke="#222" stroke-width="1"/>
<text x="0" y="0" transform="translate(243.70,309.70) scale(0.95,1.05)" text-anchor="middle" font-size="6.2" fill="#000">95th</text>
<line x1="256.80" y1="292.55" x2="256.80" y2="297.05" stroke="#222" stroke-width="1"/>
<g clip-path="url(#p32)">
<polygon points="315.04,271.88 316.71,272.23 318.39,272.59 320.06,272.95 321.73,273.33 323.40,273.72 325.07,274.13 326.74,274.54 328.41,274.94 330.08,275.30 331.75,275.65 333.42,275.99 335.09,276.31 336.77,276.60 338.44,276.90 340.11,277.17 341.78,277.41 343.45,277.62 345.12,277.80 346.79,277.96 348.46,278.12 350.13,278.27 351.80,278.42 353.47,278.56 355.15,278.68 356.82,278.77 358.49,278.85 360.16,278.91 361.83,278.97 363.50,279.00 364.61,278.99 365.72,278.98 366.82,278.95 367.93,278.91 369.04,278.88 370.15,278.83 371.25,278.76 372.36,278.66 373.47,278.54 374.58,278.41 375.69,278.26 376.79,278.09 377.90,277.87 379.01,277.60 380.12,277.29 381.23,276.95 382.33,276.55 383.44,276.05 384.55,275.47 385.66,274.86 386.76,274.23 387.87,273.61 388.98,272.95 390.09,272.27 391.20,271.54 392.30,270.78 393.41,269.95 394.52,269.06 395.63,268.12 395.63,284.91 394.52,284.61 393.41,284.30 392.30,283.98 391.20,283.63 390.09,283.25 388.98,282.88 387.87,282.51 386.76,282.18 385.66,281.87 384.55,281.56 383.44,281.27 382.33,281.03 381.23,280.83 380.12,280.66 379.01,280.52 377.90,280.40 376.79,280.28 375.69,280.15 374.58,280.03 373.47,279.92 372.36,279.81 371.25,279.71 370.15,279.60 369.04,279.50 367.93,279.39 366.82,279.29 365.72,279.19 364.61,279.10 363.50,279.00 361.83,279.06 360.16,279.11 358.49,279.17 356.82,279.23 355.15,279.30 353.47,279.35 351.80,279.41 350.13,279.49 348.46,279.59 346.79,279.73 345.12,279.90 343.45,280.10 341.78,280.30 340.11,280.53 338.44,280.79 336.77,281.10 335.09,281.46 333.42,281.93 331.75,282.47 330.08,283.03 328.41,283.63 326.74,284.26 325.07,284.92 323.40,285.63 321.73,286.36 320.06,287.06 318.39,287.72 316.71,288.34 315.04,288.93" fill="#e5e5e5"/>
<line x1="311.50" y1="279.00" x2="399.30" y2="279.00" stroke="#2a2a2a" stroke-width="1.1"/>
<polyline points="315.04,282.62 316.41,282.39 317.78,282.16 319.14,281.92 320.51,281.68 321.87,281.45 323.24,281.21 324.60,280.97 325.97,280.72 327.34,280.46 328.70,280.21 330.07,279.99 331.43,279.82 332.80,279.67 334.17,279.54 335.53,279.42 336.90,279.32 338.26,279.22 339.63,279.13 340.99,279.06 342.36,279.00 343.73,278.96 345.09,278.92 346.46,278.89 347.82,278.87 349.19,278.86 350.56,278.86 351.92,278.86 353.29,278.86 354.65,278.86 356.02,278.86 357.38,278.87 358.75,278.89 360.12,278.92 361.48,278.96 362.85,279.00 364.21,279.05 365.58,279.11 366.95,279.17 368.31,279.23 369.68,279.27 371.04,279.31 372.41,279.34 373.77,279.37 375.14,279.39 376.51,279.40 377.87,279.40 379.24,279.40 380.60,279.40 381.97,279.40 383.34,279.35 384.70,279.28 386.07,279.19 387.43,279.09 388.80,278.98 390.16,278.85 391.53,278.69 392.90,278.50 394.26,278.23 395.63,277.92" fill="none" stroke="#4a9fe2" stroke-width="1.1" stroke-linejoin="round"/>
</g>
<polyline points="311.50,253.35 311.50,292.55 399.30,292.55" fill="none" stroke="#222" stroke-width="1"/>
<line x1="306.50" y1="291.10" x2="311.50" y2="291.10" stroke="#222" stroke-width="1"/>
<line x1="306.50" y1="279.00" x2="311.50" y2="279.00" stroke="#222" stroke-width="1"/>
<line x1="306.50" y1="266.90" x2="311.50" y2="266.90" stroke="#222" stroke-width="1"/>
<line x1="306.50" y1="254.80" x2="311.50" y2="254.80" stroke="#222" stroke-width="1"/>
<text x="0" y="0" transform="translate(300.30,291.10) rotate(-90) scale(0.98,1.1)" text-anchor="middle" font-size="7.6" fill="#000">0.5</text>
<text x="0" y="0" transform="translate(300.30,266.90) rotate(-90) scale(0.98,1.1)" text-anchor="middle" font-size="7.6" fill="#000">1.5</text>
<text x="0" y="0" transform="translate(284.90,272.95) rotate(-90)" text-anchor="middle" font-size="7.2" fill="#000">RR (Sunshine hours)</text>
<line x1="313.50" y1="292.55" x2="313.50" y2="297.05" stroke="#222" stroke-width="1"/>
<text x="0" y="0" transform="translate(313.50,309.70) scale(0.95,1.05)" text-anchor="middle" font-size="6.2" fill="#000">11.2</text>
<line x1="338.30" y1="292.55" x2="338.30" y2="297.05" stroke="#222" stroke-width="1"/>
<text x="0" y="0" transform="translate(338.30,309.70) scale(0.95,1.05)" text-anchor="middle" font-size="6.2" fill="#000">5th</text>
<line x1="363.70" y1="292.55" x2="363.70" y2="297.05" stroke="#222" stroke-width="1"/>
<text x="0" y="0" transform="translate(363.70,309.70) scale(0.95,1.05)" text-anchor="middle" font-size="6.2" fill="#000">50th</text>
<line x1="382.70" y1="292.55" x2="382.70" y2="297.05" stroke="#222" stroke-width="1"/>
<text x="0" y="0" transform="translate(382.70,309.70) scale(0.95,1.05)" text-anchor="middle" font-size="6.2" fill="#000">95th</text>
<line x1="395.80" y1="292.55" x2="395.80" y2="297.05" stroke="#222" stroke-width="1"/>
<g clip-path="url(#p33)">
<polygon points="454.37,276.18 456.05,276.26 457.73,276.34 459.40,276.43 461.08,276.51 462.76,276.61 464.43,276.69 466.11,276.74 467.79,276.78 469.46,276.82 471.14,276.86 472.82,276.92 474.49,276.97 476.17,276.98 477.85,276.95 479.52,276.91 481.20,276.85 482.88,276.77 484.55,276.68 486.23,276.59 487.91,276.53 489.59,276.48 491.26,276.45 492.94,276.50 494.62,276.81 496.29,277.17 497.97,277.55 499.65,277.98 501.32,278.46 503.00,279.00 504.12,279.11 505.23,279.19 506.35,279.24 507.46,279.26 508.58,279.26 509.69,279.22 510.81,279.15 511.93,279.04 513.04,278.91 514.16,278.74 515.27,278.42 516.39,278.00 517.51,277.51 518.62,276.93 519.74,276.20 520.85,275.36 521.97,274.46 523.08,273.39 524.20,272.22 525.32,271.04 526.43,269.95 527.55,268.90 528.66,267.79 529.78,266.54 530.90,265.09 532.01,263.48 533.13,261.79 534.24,259.98 535.36,258.04 535.36,281.28 534.24,281.23 533.13,281.18 532.01,281.13 530.90,281.07 529.78,281.02 528.66,280.96 527.55,280.90 526.43,280.84 525.32,280.79 524.20,280.74 523.08,280.71 521.97,280.68 520.85,280.65 519.74,280.63 518.62,280.60 517.51,280.58 516.39,280.56 515.27,280.53 514.16,280.50 513.04,280.45 511.93,280.38 510.81,280.27 509.69,280.14 508.58,280.00 507.46,279.85 506.35,279.67 505.23,279.47 504.12,279.24 503.00,279.00 501.32,279.08 499.65,279.15 497.97,279.23 496.29,279.32 494.62,279.40 492.94,279.48 491.26,279.57 489.59,279.64 487.91,279.72 486.23,279.83 484.55,280.03 482.88,280.29 481.20,280.61 479.52,281.03 477.85,281.55 476.17,282.12 474.49,282.69 472.82,283.29 471.14,283.96 469.46,284.71 467.79,285.56 466.11,286.42 464.43,287.29 462.76,288.12 461.08,288.85 459.40,289.53 457.73,290.09 456.05,290.56 454.37,290.95" fill="#e5e5e5"/>
<line x1="451.50" y1="279.00" x2="539.30" y2="279.00" stroke="#2a2a2a" stroke-width="1.1"/>
<polyline points="454.37,286.65 455.74,286.20 457.12,285.76 458.49,285.31 459.86,284.87 461.24,284.42 462.61,283.97 463.98,283.52 465.35,283.09 466.73,282.67 468.10,282.26 469.47,281.85 470.84,281.44 472.22,281.01 473.59,280.57 474.96,280.17 476.33,279.82 477.71,279.51 479.08,279.22 480.45,278.98 481.83,278.78 483.20,278.59 484.57,278.43 485.94,278.34 487.32,278.32 488.69,278.32 490.06,278.32 491.43,278.32 492.81,278.33 494.18,278.39 495.55,278.47 496.92,278.57 498.30,278.65 499.67,278.75 501.04,278.86 502.42,278.97 503.79,279.11 505.16,279.29 506.53,279.45 507.91,279.53 509.28,279.53 510.65,279.53 512.02,279.53 513.40,279.53 514.77,279.43 516.14,279.17 517.51,278.86 518.89,278.47 520.26,277.99 521.63,277.48 523.01,276.95 524.38,276.40 525.75,275.82 527.12,275.22 528.50,274.61 529.87,274.05 531.24,273.53 532.61,273.04 533.99,272.58 535.36,272.15" fill="none" stroke="#4a9fe2" stroke-width="1.1" stroke-linejoin="round"/>
</g>
<polyline points="451.50,253.35 451.50,292.55 539.30,292.55" fill="none" stroke="#222" stroke-width="1"/>
<line x1="446.50" y1="291.10" x2="451.50" y2="291.10" stroke="#222" stroke-width="1"/>
<line x1="446.50" y1="279.00" x2="451.50" y2="279.00" stroke="#222" stroke-width="1"/>
<line x1="446.50" y1="266.90" x2="451.50" y2="266.90" stroke="#222" stroke-width="1"/>
<line x1="446.50" y1="254.80" x2="451.50" y2="254.80" stroke="#222" stroke-width="1"/>
<text x="0" y="0" transform="translate(440.30,291.10) rotate(-90) scale(0.98,1.1)" text-anchor="middle" font-size="7.6" fill="#000">0.5</text>
<text x="0" y="0" transform="translate(440.30,266.90) rotate(-90) scale(0.98,1.1)" text-anchor="middle" font-size="7.6" fill="#000">1.5</text>
<text x="0" y="0" transform="translate(424.90,272.95) rotate(-90)" text-anchor="middle" font-size="7.2" fill="#000">RR (Sunshine hours)</text>
<line x1="453.50" y1="292.55" x2="453.50" y2="297.05" stroke="#222" stroke-width="1"/>
<text x="0" y="0" transform="translate(453.50,309.70) scale(0.95,1.05)" text-anchor="middle" font-size="6.2" fill="#000">11.2</text>
<line x1="478.30" y1="292.55" x2="478.30" y2="297.05" stroke="#222" stroke-width="1"/>
<text x="0" y="0" transform="translate(478.30,309.70) scale(0.95,1.05)" text-anchor="middle" font-size="6.2" fill="#000">5th</text>
<line x1="503.70" y1="292.55" x2="503.70" y2="297.05" stroke="#222" stroke-width="1"/>
<text x="0" y="0" transform="translate(503.70,309.70) scale(0.95,1.05)" text-anchor="middle" font-size="6.2" fill="#000">50th</text>
<line x1="522.70" y1="292.55" x2="522.70" y2="297.05" stroke="#222" stroke-width="1"/>
<text x="0" y="0" transform="translate(522.70,309.70) scale(0.95,1.05)" text-anchor="middle" font-size="6.2" fill="#000">95th</text>
<line x1="535.80" y1="292.55" x2="535.80" y2="297.05" stroke="#222" stroke-width="1"/>
<g clip-path="url(#p34)">
<polygon points="595.04,280.20 596.71,280.12 598.38,280.02 600.05,279.92 601.71,279.80 603.38,279.68 605.05,279.54 606.72,279.36 608.38,279.16 610.05,278.92 611.72,278.67 613.39,278.38 615.05,278.07 616.72,277.76 618.39,277.42 620.06,277.08 621.72,276.75 623.39,276.42 625.06,276.12 626.73,275.89 628.39,275.72 630.06,275.57 631.73,275.51 633.40,275.62 635.06,275.95 636.73,276.39 638.40,277.08 640.07,277.80 641.73,278.41 643.40,279.00 644.51,279.18 645.62,279.35 646.73,279.47 647.85,279.53 648.96,279.53 650.07,279.53 651.18,279.53 652.29,279.53 653.40,279.53 654.51,279.40 655.62,279.05 656.74,278.55 657.85,278.01 658.96,277.25 660.07,276.28 661.18,275.18 662.29,273.98 663.40,272.56 664.51,270.99 665.63,269.35 666.74,267.64 667.85,265.80 668.96,263.87 670.07,261.82 671.18,259.55 672.29,257.26 673.41,255.23 674.52,253.44 675.63,251.33 675.63,267.45 674.52,268.26 673.41,269.10 672.29,269.97 671.18,270.89 670.07,271.78 668.96,272.59 667.85,273.34 666.74,274.06 665.63,274.78 664.51,275.54 663.40,276.32 662.29,277.06 661.18,277.72 660.07,278.37 658.96,278.97 657.85,279.43 656.74,279.72 655.62,279.97 654.51,280.14 653.40,280.20 652.29,280.19 651.18,280.15 650.07,280.08 648.96,280.00 647.85,279.91 646.73,279.77 645.62,279.55 644.51,279.29 643.40,279.00 641.73,279.07 640.07,279.14 638.40,279.22 636.73,279.29 635.06,279.36 633.40,279.44 631.73,279.55 630.06,279.71 628.39,279.92 626.73,280.18 625.06,280.54 623.39,281.04 621.72,281.63 620.06,282.36 618.39,283.29 616.72,284.23 615.05,285.19 613.39,286.14 611.72,287.00 610.05,287.82 608.38,288.67 606.72,289.60 605.05,290.30 603.38,290.74 601.71,291.09 600.05,291.32 598.38,291.47 596.71,291.58 595.04,291.62" fill="#e5e5e5"/>
<line x1="591.50" y1="279.00" x2="679.30" y2="279.00" stroke="#2a2a2a" stroke-width="1.1"/>
<polyline points="595.04,289.61 596.41,289.00 597.78,288.40 599.14,287.84 600.51,287.29 601.87,286.77 603.24,286.27 604.60,285.77 605.97,285.26 607.34,284.74 608.70,284.23 610.07,283.72 611.43,283.21 612.80,282.70 614.17,282.18 615.53,281.67 616.90,281.15 618.26,280.60 619.63,280.08 620.99,279.61 622.36,279.20 623.73,278.82 625.09,278.49 626.46,278.21 627.82,277.98 629.19,277.76 630.56,277.59 631.92,277.52 633.29,277.52 634.65,277.52 636.02,277.52 637.38,277.64 638.75,277.91 640.12,278.21 641.48,278.53 642.85,278.88 644.21,279.17 645.58,279.48 646.95,279.72 648.31,279.80 649.68,279.80 651.04,279.80 652.41,279.80 653.77,279.79 655.14,279.58 656.51,279.18 657.87,278.73 659.24,278.12 660.60,277.38 661.97,276.59 663.34,275.73 664.70,274.78 666.07,273.77 667.43,272.66 668.80,271.48 670.16,270.31 671.53,269.16 672.90,267.89 674.26,266.42 675.63,264.76" fill="none" stroke="#4a9fe2" stroke-width="1.1" stroke-linejoin="round"/>
</g>
<polyline points="591.50,253.35 591.50,292.55 679.30,292.55" fill="none" stroke="#222" stroke-width="1"/>
<line x1="586.50" y1="291.10" x2="591.50" y2="291.10" stroke="#222" stroke-width="1"/>
<line x1="586.50" y1="279.00" x2="591.50" y2="279.00" stroke="#222" stroke-width="1"/>
<line x1="586.50" y1="266.90" x2="591.50" y2="266.90" stroke="#222" stroke-width="1"/>
<line x1="586.50" y1="254.80" x2="591.50" y2="254.80" stroke="#222" stroke-width="1"/>
<text x="0" y="0" transform="translate(580.30,291.10) rotate(-90) scale(0.98,1.1)" text-anchor="middle" font-size="7.6" fill="#000">0.5</text>
<text x="0" y="0" transform="translate(580.30,266.90) rotate(-90) scale(0.98,1.1)" text-anchor="middle" font-size="7.6" fill="#000">1.5</text>
<text x="0" y="0" transform="translate(564.90,272.95) rotate(-90)" text-anchor="middle" font-size="7.2" fill="#000">RR (Sunshine hours)</text>
<line x1="593.50" y1="292.55" x2="593.50" y2="297.05" stroke="#222" stroke-width="1"/>
<text x="0" y="0" transform="translate(593.50,309.70) scale(0.95,1.05)" text-anchor="middle" font-size="6.2" fill="#000">11.2</text>
<line x1="618.30" y1="292.55" x2="618.30" y2="297.05" stroke="#222" stroke-width="1"/>
<text x="0" y="0" transform="translate(618.30,309.70) scale(0.95,1.05)" text-anchor="middle" font-size="6.2" fill="#000">5th</text>
<line x1="643.70" y1="292.55" x2="643.70" y2="297.05" stroke="#222" stroke-width="1"/>
<text x="0" y="0" transform="translate(643.70,309.70) scale(0.95,1.05)" text-anchor="middle" font-size="6.2" fill="#000">50th</text>
<line x1="662.70" y1="292.55" x2="662.70" y2="297.05" stroke="#222" stroke-width="1"/>
<text x="0" y="0" transform="translate(662.70,309.70) scale(0.95,1.05)" text-anchor="middle" font-size="6.2" fill="#000">95th</text>
<line x1="675.80" y1="292.55" x2="675.80" y2="297.05" stroke="#222" stroke-width="1"/>
<g clip-path="url(#p40)">
<polygon points="36.10,338.39 37.53,340.05 38.95,341.63 40.38,343.14 41.80,344.58 43.22,345.89 44.65,347.06 46.07,348.12 47.50,349.12 48.92,350.07 50.34,350.95 51.77,351.76 53.19,352.51 54.62,353.19 56.04,353.79 57.46,354.33 58.89,354.81 60.31,355.23 61.74,355.60 63.16,355.94 64.58,356.25 66.01,356.53 67.43,356.77 68.86,357.01 70.28,357.25 71.70,357.50 73.13,357.74 74.55,357.93 75.98,358.08 77.40,358.20 78.76,358.05 80.13,357.87 81.49,357.68 82.86,357.46 84.22,357.20 85.58,356.92 86.95,356.62 88.31,356.32 89.68,356.00 91.04,355.66 92.40,355.29 93.77,354.87 95.13,354.40 96.50,353.88 97.86,353.30 99.22,352.62 100.59,351.82 101.95,350.92 103.32,349.96 104.68,348.92 106.04,347.79 107.41,346.55 108.77,345.23 110.14,343.77 111.50,342.15 112.86,340.48 114.23,338.80 115.59,337.07 116.96,335.30 116.96,370.89 115.59,370.76 114.23,370.62 112.86,370.47 111.50,370.32 110.14,370.14 108.77,369.93 107.41,369.62 106.04,369.21 104.68,368.75 103.32,368.26 101.95,367.71 100.59,367.09 99.22,366.43 97.86,365.78 96.50,365.10 95.13,364.40 93.77,363.71 92.40,363.05 91.04,362.40 89.68,361.76 88.31,361.16 86.95,360.65 85.58,360.20 84.22,359.79 82.86,359.41 81.49,359.07 80.13,358.75 78.76,358.46 77.40,358.20 75.98,358.40 74.55,358.60 73.13,358.80 71.70,359.01 70.28,359.21 68.86,359.41 67.43,359.62 66.01,359.86 64.58,360.15 63.16,360.50 61.74,360.89 60.31,361.29 58.89,361.72 57.46,362.19 56.04,362.67 54.62,363.15 53.19,363.64 51.77,364.13 50.34,364.65 48.92,365.18 47.50,365.75 46.07,366.33 44.65,366.91 43.22,367.49 41.80,368.08 40.38,368.61 38.95,369.10 37.53,369.54 36.10,369.95" fill="#e5e5e5"/>
<line x1="33.00" y1="358.20" x2="120.80" y2="358.20" stroke="#2a2a2a" stroke-width="1.1"/>
<polyline points="36.10,358.53 37.47,358.57 38.84,358.60 40.21,358.63 41.59,358.65 42.96,358.66 44.33,358.67 45.70,358.67 47.07,358.67 48.44,358.67 49.81,358.67 51.18,358.67 52.55,358.67 53.92,358.67 55.29,358.67 56.66,358.67 58.03,358.67 59.40,358.65 60.77,358.63 62.14,358.59 63.51,358.56 64.88,358.53 66.25,358.49 67.62,358.46 68.99,358.42 70.36,358.40 71.73,358.40 73.10,358.40 74.47,358.40 75.84,358.40 77.22,358.40 78.59,358.40 79.96,358.42 81.33,358.44 82.70,358.47 84.07,358.51 85.44,358.56 86.81,358.64 88.18,358.75 89.55,358.88 90.92,359.04 92.29,359.27 93.66,359.53 95.03,359.80 96.40,360.04 97.77,360.29 99.14,360.53 100.51,360.76 101.88,360.98 103.25,361.19 104.62,361.39 105.99,361.59 107.36,361.79 108.73,362.00 110.10,362.21 111.47,362.41 112.85,362.62 114.22,362.82 115.59,363.03 116.96,363.23" fill="none" stroke="#4a9fe2" stroke-width="1.1" stroke-linejoin="round"/>
</g>
<polyline points="33.00,332.55 33.00,371.75 120.80,371.75" fill="none" stroke="#222" stroke-width="1"/>
<line x1="28.00" y1="370.30" x2="33.00" y2="370.30" stroke="#222" stroke-width="1"/>
<line x1="28.00" y1="358.20" x2="33.00" y2="358.20" stroke="#222" stroke-width="1"/>
<line x1="28.00" y1="346.10" x2="33.00" y2="346.10" stroke="#222" stroke-width="1"/>
<line x1="28.00" y1="334.00" x2="33.00" y2="334.00" stroke="#222" stroke-width="1"/>
<text x="0" y="0" transform="translate(21.80,370.30) rotate(-90) scale(0.98,1.1)" text-anchor="middle" font-size="7.6" fill="#000">0.5</text>
<text x="0" y="0" transform="translate(21.80,346.10) rotate(-90) scale(0.98,1.1)" text-anchor="middle" font-size="7.6" fill="#000">1.5</text>
<text x="0" y="0" transform="translate(6.40,352.15) rotate(-90)" text-anchor="middle" font-size="7.2" fill="#000">RR (Min RH)</text>
<line x1="36.30" y1="371.75" x2="36.30" y2="376.25" stroke="#222" stroke-width="1"/>
<text x="0" y="0" transform="translate(36.30,388.90) scale(0.95,1.05)" text-anchor="middle" font-size="6.2" fill="#000">45.0</text>
<line x1="56.50" y1="371.75" x2="56.50" y2="376.25" stroke="#222" stroke-width="1"/>
<text x="0" y="0" transform="translate(56.50,388.90) scale(0.95,1.05)" text-anchor="middle" font-size="6.2" fill="#000">5th</text>
<line x1="77.60" y1="371.75" x2="77.60" y2="376.25" stroke="#222" stroke-width="1"/>
<text x="0" y="0" transform="translate(77.60,388.90) scale(0.95,1.05)" text-anchor="middle" font-size="6.2" fill="#000">50th</text>
<line x1="94.70" y1="371.75" x2="94.70" y2="376.25" stroke="#222" stroke-width="1"/>
<line x1="118.50" y1="371.75" x2="118.50" y2="376.25" stroke="#222" stroke-width="1"/>
<text x="0" y="0" transform="translate(118.50,388.90) scale(0.95,1.05)" text-anchor="middle" font-size="6.2" fill="#000">80.6</text>
<g clip-path="url(#p41)">
<polygon points="176.04,342.01 177.47,343.11 178.90,344.17 180.33,345.21 181.76,346.22 183.19,347.21 184.62,348.17 186.05,349.09 187.48,349.97 188.91,350.83 190.34,351.63 191.77,352.36 193.20,353.04 194.63,353.67 196.06,354.23 197.49,354.69 198.92,355.09 200.35,355.44 201.78,355.75 203.20,356.04 204.63,356.30 206.06,356.54 207.49,356.77 208.92,357.00 210.35,357.21 211.78,357.42 213.21,357.63 214.64,357.82 216.07,358.02 217.50,358.20 218.85,358.07 220.20,357.90 221.55,357.72 222.90,357.51 224.25,357.27 225.60,356.99 226.94,356.70 228.29,356.40 229.64,356.09 230.99,355.76 232.34,355.40 233.69,355.00 235.04,354.53 236.39,354.01 237.74,353.46 239.09,352.93 240.44,352.39 241.79,351.83 243.14,351.23 244.48,350.56 245.83,349.81 247.18,349.01 248.53,348.20 249.88,347.43 251.23,346.68 252.58,345.91 253.93,345.10 255.28,344.25 256.63,343.36 256.63,370.89 255.28,370.75 253.93,370.58 252.58,370.38 251.23,370.13 249.88,369.83 248.53,369.50 247.18,369.10 245.83,368.64 244.48,368.16 243.14,367.65 241.79,367.10 240.44,366.51 239.09,365.91 237.74,365.32 236.39,364.71 235.04,364.10 233.69,363.49 232.34,362.87 230.99,362.23 229.64,361.60 228.29,361.02 226.94,360.53 225.60,360.09 224.25,359.69 222.90,359.33 221.55,359.01 220.20,358.71 218.85,358.44 217.50,358.20 216.07,358.50 214.64,358.77 213.21,359.03 211.78,359.26 210.35,359.47 208.92,359.67 207.49,359.89 206.06,360.13 204.63,360.37 203.20,360.62 201.78,360.91 200.35,361.25 198.92,361.61 197.49,361.99 196.06,362.37 194.63,362.76 193.20,363.15 191.77,363.56 190.34,363.98 188.91,364.42 187.48,364.86 186.05,365.27 184.62,365.63 183.19,365.98 181.76,366.33 180.33,366.70 178.90,367.10 177.47,367.51 176.04,367.93" fill="#e5e5e5"/>
<line x1="172.50" y1="358.20" x2="260.30" y2="358.20" stroke="#2a2a2a" stroke-width="1.1"/>
<polyline points="176.04,358.26 177.41,358.31 178.78,358.36 180.14,358.41 181.51,358.46 182.87,358.51 184.24,358.57 185.60,358.62 186.97,358.68 188.34,358.74 189.70,358.79 191.07,358.83 192.43,358.86 193.80,358.90 195.17,358.92 196.53,358.94 197.90,358.94 199.26,358.94 200.63,358.94 201.99,358.94 203.36,358.94 204.73,358.92 206.09,358.87 207.46,358.81 208.82,358.73 210.19,358.67 211.56,358.62 212.92,358.56 214.29,358.51 215.65,358.46 217.02,358.42 218.38,358.38 219.75,358.34 221.12,358.30 222.48,358.27 223.85,358.26 225.21,358.28 226.58,358.31 227.95,358.35 229.31,358.41 230.68,358.50 232.04,358.63 233.41,358.79 234.77,358.98 236.14,359.27 237.51,359.64 238.87,360.03 240.24,360.37 241.60,360.69 242.97,361.00 244.34,361.30 245.70,361.59 247.07,361.87 248.43,362.15 249.80,362.41 251.16,362.67 252.53,362.92 253.90,363.17 255.26,363.41 256.63,363.64" fill="none" stroke="#4a9fe2" stroke-width="1.1" stroke-linejoin="round"/>
</g>
<polyline points="172.50,332.55 172.50,371.75 260.30,371.75" fill="none" stroke="#222" stroke-width="1"/>
<line x1="167.50" y1="370.30" x2="172.50" y2="370.30" stroke="#222" stroke-width="1"/>
<line x1="167.50" y1="358.20" x2="172.50" y2="358.20" stroke="#222" stroke-width="1"/>
<line x1="167.50" y1="346.10" x2="172.50" y2="346.10" stroke="#222" stroke-width="1"/>
<line x1="167.50" y1="334.00" x2="172.50" y2="334.00" stroke="#222" stroke-width="1"/>
<text x="0" y="0" transform="translate(161.30,370.30) rotate(-90) scale(0.98,1.1)" text-anchor="middle" font-size="7.6" fill="#000">0.5</text>
<text x="0" y="0" transform="translate(161.30,346.10) rotate(-90) scale(0.98,1.1)" text-anchor="middle" font-size="7.6" fill="#000">1.5</text>
<text x="0" y="0" transform="translate(145.90,352.15) rotate(-90)" text-anchor="middle" font-size="7.2" fill="#000">RR (Min RH)</text>
<line x1="175.80" y1="371.75" x2="175.80" y2="376.25" stroke="#222" stroke-width="1"/>
<text x="0" y="0" transform="translate(175.80,388.90) scale(0.95,1.05)" text-anchor="middle" font-size="6.2" fill="#000">45.0</text>
<line x1="196.00" y1="371.75" x2="196.00" y2="376.25" stroke="#222" stroke-width="1"/>
<text x="0" y="0" transform="translate(196.00,388.90) scale(0.95,1.05)" text-anchor="middle" font-size="6.2" fill="#000">5th</text>
<line x1="217.10" y1="371.75" x2="217.10" y2="376.25" stroke="#222" stroke-width="1"/>
<text x="0" y="0" transform="translate(217.10,388.90) scale(0.95,1.05)" text-anchor="middle" font-size="6.2" fill="#000">50th</text>
<line x1="234.20" y1="371.75" x2="234.20" y2="376.25" stroke="#222" stroke-width="1"/>
<line x1="258.00" y1="371.75" x2="258.00" y2="376.25" stroke="#222" stroke-width="1"/>
<text x="0" y="0" transform="translate(258.00,388.90) scale(0.95,1.05)" text-anchor="middle" font-size="6.2" fill="#000">80.6</text>
<g clip-path="url(#p42)">
<polygon points="315.04,342.82 316.47,343.93 317.89,345.03 319.31,346.12 320.73,347.20 322.16,348.30 323.58,349.38 325.00,350.40 326.42,351.37 327.85,352.33 329.27,353.20 330.69,353.93 332.12,354.56 333.54,355.13 334.96,355.61 336.38,355.97 337.81,356.26 339.23,356.50 340.65,356.71 342.07,356.89 343.50,357.03 344.92,357.17 346.34,357.30 347.76,357.44 349.19,357.59 350.61,357.73 352.03,357.87 353.45,357.99 354.88,358.10 356.30,358.20 357.66,357.98 359.01,357.75 360.37,357.51 361.72,357.26 363.08,357.00 364.44,356.74 365.79,356.46 367.15,356.16 368.51,355.85 369.86,355.51 371.22,355.16 372.57,354.78 373.93,354.35 375.29,353.90 376.64,353.44 378.00,353.00 379.35,352.56 380.71,352.13 382.07,351.68 383.42,351.23 384.78,350.77 386.13,350.31 387.49,349.82 388.85,349.29 390.20,348.70 391.56,348.09 392.92,347.52 394.27,346.98 395.63,346.45 395.63,371.02 394.27,371.00 392.92,370.93 391.56,370.83 390.20,370.67 388.85,370.46 387.49,370.21 386.13,369.88 384.78,369.49 383.42,369.06 382.07,368.59 380.71,368.05 379.35,367.45 378.00,366.82 376.64,366.19 375.29,365.52 373.93,364.82 372.57,364.13 371.22,363.44 369.86,362.73 368.51,362.04 367.15,361.39 365.79,360.81 364.44,360.24 363.08,359.73 361.72,359.30 360.37,358.95 359.01,358.64 357.66,358.39 356.30,358.20 354.88,358.69 353.45,359.12 352.03,359.46 350.61,359.72 349.19,359.95 347.76,360.14 346.34,360.31 344.92,360.46 343.50,360.59 342.07,360.72 340.65,360.89 339.23,361.09 337.81,361.31 336.38,361.54 334.96,361.77 333.54,362.00 332.12,362.25 330.69,362.52 329.27,362.83 327.85,363.19 326.42,363.57 325.00,363.93 323.58,364.30 322.16,364.67 320.73,365.02 319.31,365.34 317.89,365.64 316.47,365.93 315.04,366.19" fill="#e5e5e5"/>
<line x1="311.50" y1="358.20" x2="399.30" y2="358.20" stroke="#2a2a2a" stroke-width="1.1"/>
<polyline points="315.04,356.52 316.41,356.80 317.78,357.08 319.14,357.34 320.51,357.60 321.87,357.85 323.24,358.10 324.60,358.32 325.97,358.52 327.34,358.72 328.70,358.90 330.07,359.04 331.43,359.14 332.80,359.23 334.17,359.30 335.53,359.34 336.90,359.34 338.26,359.34 339.63,359.34 340.99,359.34 342.36,359.33 343.73,359.30 345.09,359.26 346.46,359.21 347.82,359.14 349.19,359.04 350.56,358.93 351.92,358.81 353.29,358.69 354.65,358.57 356.02,358.43 357.38,358.24 358.75,358.02 360.12,357.85 361.48,357.73 362.85,357.63 364.21,357.59 365.58,357.65 366.95,357.76 368.31,357.88 369.68,358.03 371.04,358.22 372.41,358.45 373.77,358.78 375.14,359.18 376.51,359.60 377.87,359.97 379.24,360.32 380.60,360.66 381.97,360.99 383.34,361.34 384.70,361.69 386.07,362.04 387.43,362.40 388.80,362.76 390.16,363.12 391.53,363.48 392.90,363.84 394.26,364.21 395.63,364.58" fill="none" stroke="#4a9fe2" stroke-width="1.1" stroke-linejoin="round"/>
</g>
<polyline points="311.50,332.55 311.50,371.75 399.30,371.75" fill="none" stroke="#222" stroke-width="1"/>
<line x1="306.50" y1="370.30" x2="311.50" y2="370.30" stroke="#222" stroke-width="1"/>
<line x1="306.50" y1="358.20" x2="311.50" y2="358.20" stroke="#222" stroke-width="1"/>
<line x1="306.50" y1="346.10" x2="311.50" y2="346.10" stroke="#222" stroke-width="1"/>
<line x1="306.50" y1="334.00" x2="311.50" y2="334.00" stroke="#222" stroke-width="1"/>
<text x="0" y="0" transform="translate(300.30,370.30) rotate(-90) scale(0.98,1.1)" text-anchor="middle" font-size="7.6" fill="#000">0.5</text>
<text x="0" y="0" transform="translate(300.30,346.10) rotate(-90) scale(0.98,1.1)" text-anchor="middle" font-size="7.6" fill="#000">1.5</text>
<text x="0" y="0" transform="translate(284.90,352.15) rotate(-90)" text-anchor="middle" font-size="7.2" fill="#000">RR (Min RH)</text>
<line x1="314.80" y1="371.75" x2="314.80" y2="376.25" stroke="#222" stroke-width="1"/>
<text x="0" y="0" transform="translate(314.80,388.90) scale(0.95,1.05)" text-anchor="middle" font-size="6.2" fill="#000">45.0</text>
<line x1="335.00" y1="371.75" x2="335.00" y2="376.25" stroke="#222" stroke-width="1"/>
<text x="0" y="0" transform="translate(335.00,388.90) scale(0.95,1.05)" text-anchor="middle" font-size="6.2" fill="#000">5th</text>
<line x1="356.10" y1="371.75" x2="356.10" y2="376.25" stroke="#222" stroke-width="1"/>
<text x="0" y="0" transform="translate(356.10,388.90) scale(0.95,1.05)" text-anchor="middle" font-size="6.2" fill="#000">50th</text>
<line x1="373.20" y1="371.75" x2="373.20" y2="376.25" stroke="#222" stroke-width="1"/>
<line x1="397.00" y1="371.75" x2="397.00" y2="376.25" stroke="#222" stroke-width="1"/>
<text x="0" y="0" transform="translate(397.00,388.90) scale(0.95,1.05)" text-anchor="middle" font-size="6.2" fill="#000">80.6</text>
<g clip-path="url(#p43)">
<polygon points="454.37,339.06 455.81,340.53 457.25,341.96 458.69,343.37 460.13,344.75 461.57,346.08 463.01,347.34 464.44,348.53 465.88,349.65 467.32,350.69 468.76,351.67 470.20,352.58 471.64,353.43 473.08,354.23 474.52,354.91 475.96,355.48 477.39,355.97 478.83,356.30 480.27,356.53 481.71,356.70 483.15,356.85 484.59,356.98 486.03,357.08 487.47,357.18 488.91,357.29 490.34,357.43 491.78,357.59 493.22,357.78 494.66,357.98 496.10,358.20 497.45,357.99 498.81,357.77 500.16,357.54 501.52,357.30 502.87,357.04 504.22,356.77 505.58,356.49 506.93,356.21 508.28,355.96 509.64,355.70 510.99,355.43 512.35,355.12 513.70,354.77 515.05,354.38 516.41,353.94 517.76,353.47 519.11,352.91 520.47,352.30 521.82,351.65 523.18,351.00 524.53,350.36 525.88,349.71 527.24,349.02 528.59,348.25 529.94,347.37 531.30,346.43 532.65,345.52 534.01,344.64 535.36,343.76 535.36,371.29 534.01,371.27 532.65,371.22 531.30,371.14 529.94,371.03 528.59,370.92 527.24,370.78 525.88,370.59 524.53,370.33 523.18,370.03 521.82,369.62 520.47,369.04 519.11,368.36 517.76,367.66 516.41,366.97 515.05,366.23 513.70,365.46 512.35,364.70 510.99,363.94 509.64,363.16 508.28,362.40 506.93,361.71 505.58,361.09 504.22,360.50 502.87,359.97 501.52,359.51 500.16,359.12 498.81,358.76 497.45,358.45 496.10,358.20 494.66,358.90 493.22,359.49 491.78,359.92 490.34,360.23 488.91,360.47 487.47,360.68 486.03,360.91 484.59,361.13 483.15,361.35 481.71,361.56 480.27,361.75 478.83,361.93 477.39,362.11 475.96,362.28 474.52,362.46 473.08,362.63 471.64,362.81 470.20,363.01 468.76,363.23 467.32,363.48 465.88,363.75 464.44,364.05 463.01,364.42 461.57,364.81 460.13,365.17 458.69,365.46 457.25,365.73 455.81,365.97 454.37,366.19" fill="#e5e5e5"/>
<line x1="451.50" y1="358.20" x2="539.30" y2="358.20" stroke="#2a2a2a" stroke-width="1.1"/>
<polyline points="454.37,355.44 455.74,355.79 457.12,356.13 458.49,356.47 459.86,356.82 461.24,357.17 462.61,357.52 463.98,357.87 465.35,358.18 466.73,358.48 468.10,358.77 469.47,359.04 470.84,359.26 472.22,359.47 473.59,359.67 474.96,359.82 476.33,359.90 477.71,359.95 479.08,359.98 480.45,360.01 481.83,360.01 483.20,359.96 484.57,359.88 485.94,359.79 487.32,359.69 488.69,359.58 490.06,359.44 491.43,359.28 492.81,359.08 494.18,358.82 495.55,358.53 496.92,358.21 498.30,357.84 499.67,357.52 501.04,357.32 502.42,357.15 503.79,357.06 505.16,357.08 506.53,357.18 507.91,357.31 509.28,357.46 510.65,357.69 512.02,357.95 513.40,358.25 514.77,358.59 516.14,359.01 517.51,359.45 518.89,359.89 520.26,360.33 521.63,360.78 523.01,361.24 524.38,361.67 525.75,362.10 527.12,362.53 528.50,362.94 529.87,363.31 531.24,363.66 532.61,363.99 533.99,364.29 535.36,364.58" fill="none" stroke="#4a9fe2" stroke-width="1.1" stroke-linejoin="round"/>
</g>
<polyline points="451.50,332.55 451.50,371.75 539.30,371.75" fill="none" stroke="#222" stroke-width="1"/>
<line x1="446.50" y1="370.30" x2="451.50" y2="370.30" stroke="#222" stroke-width="1"/>
<line x1="446.50" y1="358.20" x2="451.50" y2="358.20" stroke="#222" stroke-width="1"/>
<line x1="446.50" y1="346.10" x2="451.50" y2="346.10" stroke="#222" stroke-width="1"/>
<line x1="446.50" y1="334.00" x2="451.50" y2="334.00" stroke="#222" stroke-width="1"/>
<text x="0" y="0" transform="translate(440.30,370.30) rotate(-90) scale(0.98,1.1)" text-anchor="middle" font-size="7.6" fill="#000">0.5</text>
<text x="0" y="0" transform="translate(440.30,346.10) rotate(-90) scale(0.98,1.1)" text-anchor="middle" font-size="7.6" fill="#000">1.5</text>
<text x="0" y="0" transform="translate(424.90,352.15) rotate(-90)" text-anchor="middle" font-size="7.2" fill="#000">RR (Min RH)</text>
<line x1="454.80" y1="371.75" x2="454.80" y2="376.25" stroke="#222" stroke-width="1"/>
<text x="0" y="0" transform="translate(454.80,388.90) scale(0.95,1.05)" text-anchor="middle" font-size="6.2" fill="#000">45.0</text>
<line x1="475.00" y1="371.75" x2="475.00" y2="376.25" stroke="#222" stroke-width="1"/>
<text x="0" y="0" transform="translate(475.00,388.90) scale(0.95,1.05)" text-anchor="middle" font-size="6.2" fill="#000">5th</text>
<line x1="496.10" y1="371.75" x2="496.10" y2="376.25" stroke="#222" stroke-width="1"/>
<text x="0" y="0" transform="translate(496.10,388.90) scale(0.95,1.05)" text-anchor="middle" font-size="6.2" fill="#000">50th</text>
<line x1="513.20" y1="371.75" x2="513.20" y2="376.25" stroke="#222" stroke-width="1"/>
<line x1="537.00" y1="371.75" x2="537.00" y2="376.25" stroke="#222" stroke-width="1"/>
<text x="0" y="0" transform="translate(537.00,388.90) scale(0.95,1.05)" text-anchor="middle" font-size="6.2" fill="#000">80.6</text>
<g clip-path="url(#p44)">
<polygon points="595.04,332.61 596.46,335.28 597.88,337.85 599.29,340.33 600.71,342.60 602.12,344.69 603.54,346.53 604.95,348.22 606.37,349.71 607.79,351.04 609.20,352.22 610.62,353.25 612.03,354.15 613.45,354.94 614.86,355.59 616.28,356.16 617.70,356.61 619.11,356.87 620.53,357.05 621.94,357.18 623.36,357.29 624.77,357.38 626.19,357.44 627.61,357.50 629.02,357.58 630.44,357.67 631.85,357.78 633.27,357.91 634.68,358.05 636.10,358.20 637.46,357.73 638.83,357.28 640.19,356.86 641.55,356.47 642.92,356.11 644.28,355.78 645.64,355.45 647.00,355.11 648.37,354.79 649.73,354.47 651.09,354.12 652.46,353.73 653.82,353.29 655.18,352.80 656.55,352.24 657.91,351.62 659.27,350.85 660.63,349.98 662.00,349.06 663.36,348.12 664.72,347.17 666.09,346.17 667.45,345.10 668.81,343.93 670.18,342.63 671.54,341.21 672.90,339.67 674.26,337.96 675.63,336.10 675.63,371.29 674.26,371.28 672.90,371.25 671.54,371.19 670.18,371.13 668.81,371.06 667.45,370.97 666.09,370.84 664.72,370.66 663.36,370.44 662.00,370.15 660.63,369.70 659.27,369.14 657.91,368.52 656.55,367.87 655.18,367.11 653.82,366.29 652.46,365.45 651.09,364.61 649.73,363.71 648.37,362.83 647.00,362.03 645.64,361.31 644.28,360.64 642.92,360.03 641.55,359.53 640.19,359.11 638.83,358.74 637.46,358.43 636.10,358.20 634.68,359.01 633.27,359.73 631.85,360.33 630.44,360.84 629.02,361.29 627.61,361.67 626.19,361.97 624.77,362.22 623.36,362.43 621.94,362.61 620.53,362.78 619.11,362.92 617.70,363.05 616.28,363.19 614.86,363.35 613.45,363.51 612.03,363.69 610.62,363.89 609.20,364.10 607.79,364.34 606.37,364.60 604.95,364.88 603.54,365.22 602.12,365.60 600.71,365.97 599.29,366.28 597.88,366.55 596.46,366.79 595.04,366.99" fill="#e5e5e5"/>
<line x1="591.50" y1="358.20" x2="679.30" y2="358.20" stroke="#2a2a2a" stroke-width="1.1"/>
<polyline points="595.04,354.50 596.41,354.98 597.78,355.45 599.14,355.91 600.51,356.37 601.87,356.84 603.24,357.29 604.60,357.71 605.97,358.10 607.34,358.46 608.70,358.81 610.07,359.12 611.43,359.40 612.80,359.69 614.17,359.94 615.53,360.12 616.90,360.22 618.26,360.31 619.63,360.38 620.99,360.41 622.36,360.40 623.73,360.34 625.09,360.26 626.46,360.16 627.82,360.02 629.19,359.83 630.56,359.60 631.92,359.35 633.29,359.08 634.65,358.77 636.02,358.43 637.38,358.02 638.75,357.55 640.12,357.17 641.48,356.86 642.85,356.61 644.21,356.52 645.58,356.52 646.95,356.52 648.31,356.52 649.68,356.67 651.04,356.95 652.41,357.25 653.77,357.59 655.14,357.97 656.51,358.36 657.87,358.75 659.24,359.15 660.60,359.58 661.97,360.03 663.34,360.52 664.70,361.04 666.07,361.57 667.43,362.09 668.80,362.59 670.16,363.09 671.53,363.61 672.90,364.16 674.26,364.76 675.63,365.38" fill="none" stroke="#4a9fe2" stroke-width="1.1" stroke-linejoin="round"/>
</g>
<polyline points="591.50,332.55 591.50,371.75 679.30,371.75" fill="none" stroke="#222" stroke-width="1"/>
<line x1="586.50" y1="370.30" x2="591.50" y2="370.30" stroke="#222" stroke-width="1"/>
<line x1="586.50" y1="358.20" x2="591.50" y2="358.20" stroke="#222" stroke-width="1"/>
<line x1="586.50" y1="346.10" x2="591.50" y2="346.10" stroke="#222" stroke-width="1"/>
<line x1="586.50" y1="334.00" x2="591.50" y2="334.00" stroke="#222" stroke-width="1"/>
<text x="0" y="0" transform="translate(580.30,370.30) rotate(-90) scale(0.98,1.1)" text-anchor="middle" font-size="7.6" fill="#000">0.5</text>
<text x="0" y="0" transform="translate(580.30,346.10) rotate(-90) scale(0.98,1.1)" text-anchor="middle" font-size="7.6" fill="#000">1.5</text>
<text x="0" y="0" transform="translate(564.90,352.15) rotate(-90)" text-anchor="middle" font-size="7.2" fill="#000">RR (Min RH)</text>
<line x1="594.80" y1="371.75" x2="594.80" y2="376.25" stroke="#222" stroke-width="1"/>
<text x="0" y="0" transform="translate(594.80,388.90) scale(0.95,1.05)" text-anchor="middle" font-size="6.2" fill="#000">45.0</text>
<line x1="615.00" y1="371.75" x2="615.00" y2="376.25" stroke="#222" stroke-width="1"/>
<text x="0" y="0" transform="translate(615.00,388.90) scale(0.95,1.05)" text-anchor="middle" font-size="6.2" fill="#000">5th</text>
<line x1="636.10" y1="371.75" x2="636.10" y2="376.25" stroke="#222" stroke-width="1"/>
<text x="0" y="0" transform="translate(636.10,388.90) scale(0.95,1.05)" text-anchor="middle" font-size="6.2" fill="#000">50th</text>
<line x1="653.20" y1="371.75" x2="653.20" y2="376.25" stroke="#222" stroke-width="1"/>
<line x1="677.00" y1="371.75" x2="677.00" y2="376.25" stroke="#222" stroke-width="1"/>
<text x="0" y="0" transform="translate(677.00,388.90) scale(0.95,1.05)" text-anchor="middle" font-size="6.2" fill="#000">80.6</text>
</svg></body></html>
